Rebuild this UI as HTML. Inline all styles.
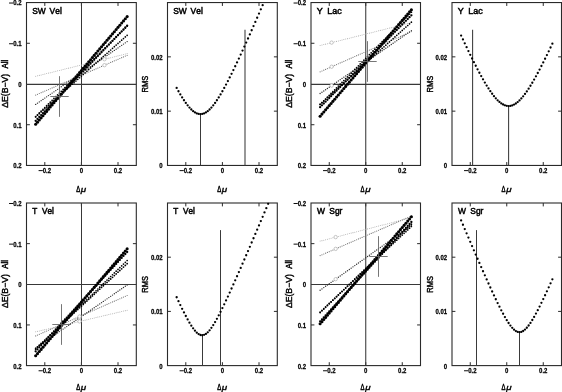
<!DOCTYPE html>
<html><head><meta charset="utf-8"><style>
html,body{margin:0;padding:0;background:#fff;}
body{width:562px;height:392px;overflow:hidden;}
svg{display:block;will-change:transform;font-family:'Liberation Sans',sans-serif;font-kerning:none;}
</style></head><body>
<svg width="562" height="392" viewBox="0 0 562 392" fill="#000">
<rect width="562" height="392" fill="#fff"/>
<rect x="26.50" y="2.55" width="109.80" height="162.90" fill="none" stroke="#2a2a2a" stroke-width="1.1"/>
<line x1="44.80" y1="2.55" x2="44.80" y2="5.95" stroke="#2a2a2a" stroke-width="1"/>
<line x1="44.80" y1="165.45" x2="44.80" y2="162.05" stroke="#2a2a2a" stroke-width="1"/>
<line x1="81.40" y1="2.55" x2="81.40" y2="5.95" stroke="#2a2a2a" stroke-width="1"/>
<line x1="81.40" y1="165.45" x2="81.40" y2="162.05" stroke="#2a2a2a" stroke-width="1"/>
<line x1="118.00" y1="2.55" x2="118.00" y2="5.95" stroke="#2a2a2a" stroke-width="1"/>
<line x1="118.00" y1="165.45" x2="118.00" y2="162.05" stroke="#2a2a2a" stroke-width="1"/>
<line x1="26.50" y1="43.28" x2="29.90" y2="43.28" stroke="#2a2a2a" stroke-width="1"/>
<line x1="136.30" y1="43.28" x2="132.90" y2="43.28" stroke="#2a2a2a" stroke-width="1"/>
<line x1="26.50" y1="124.72" x2="29.90" y2="124.72" stroke="#2a2a2a" stroke-width="1"/>
<line x1="136.30" y1="124.72" x2="132.90" y2="124.72" stroke="#2a2a2a" stroke-width="1"/>
<line x1="81.50" y1="2.55" x2="81.50" y2="165.45" stroke="#383838" stroke-width="1.05"/>
<line x1="26.50" y1="84.35" x2="136.30" y2="84.35" stroke="#383838" stroke-width="1.05"/>
<circle cx="35.65" cy="76.30" r="0.52" fill="#b0b0b0"/>
<circle cx="37.48" cy="75.85" r="0.52" fill="#b0b0b0"/>
<circle cx="39.31" cy="75.39" r="0.52" fill="#b0b0b0"/>
<circle cx="41.14" cy="74.94" r="0.52" fill="#b0b0b0"/>
<circle cx="42.97" cy="74.48" r="0.52" fill="#b0b0b0"/>
<circle cx="44.80" cy="74.03" r="0.52" fill="#b0b0b0"/>
<circle cx="46.63" cy="73.58" r="0.52" fill="#b0b0b0"/>
<circle cx="48.46" cy="73.12" r="0.52" fill="#b0b0b0"/>
<circle cx="50.29" cy="72.67" r="0.52" fill="#b0b0b0"/>
<circle cx="52.12" cy="72.21" r="0.52" fill="#b0b0b0"/>
<circle cx="53.95" cy="71.76" r="0.52" fill="#b0b0b0"/>
<circle cx="55.78" cy="71.31" r="0.52" fill="#b0b0b0"/>
<circle cx="57.61" cy="70.85" r="0.52" fill="#b0b0b0"/>
<circle cx="59.44" cy="70.40" r="0.52" fill="#b0b0b0"/>
<circle cx="61.27" cy="69.94" r="0.52" fill="#b0b0b0"/>
<circle cx="63.10" cy="69.49" r="0.52" fill="#b0b0b0"/>
<circle cx="64.93" cy="69.04" r="0.52" fill="#b0b0b0"/>
<circle cx="66.76" cy="68.58" r="0.52" fill="#b0b0b0"/>
<circle cx="68.59" cy="68.13" r="0.52" fill="#b0b0b0"/>
<circle cx="70.42" cy="67.67" r="0.52" fill="#b0b0b0"/>
<circle cx="72.25" cy="67.22" r="0.52" fill="#b0b0b0"/>
<circle cx="74.08" cy="66.77" r="0.52" fill="#b0b0b0"/>
<circle cx="75.91" cy="66.31" r="0.52" fill="#b0b0b0"/>
<circle cx="77.74" cy="65.86" r="0.52" fill="#b0b0b0"/>
<circle cx="79.57" cy="65.40" r="0.52" fill="#b0b0b0"/>
<circle cx="81.40" cy="64.95" r="0.52" fill="#b0b0b0"/>
<circle cx="83.23" cy="64.50" r="0.52" fill="#b0b0b0"/>
<circle cx="85.06" cy="64.04" r="0.52" fill="#b0b0b0"/>
<circle cx="86.89" cy="63.59" r="0.52" fill="#b0b0b0"/>
<circle cx="88.72" cy="63.13" r="0.52" fill="#b0b0b0"/>
<circle cx="90.55" cy="62.68" r="0.52" fill="#b0b0b0"/>
<circle cx="92.38" cy="62.23" r="0.52" fill="#b0b0b0"/>
<circle cx="94.21" cy="61.77" r="0.52" fill="#b0b0b0"/>
<circle cx="96.04" cy="61.32" r="0.52" fill="#b0b0b0"/>
<circle cx="97.87" cy="60.86" r="0.52" fill="#b0b0b0"/>
<circle cx="99.70" cy="60.41" r="0.52" fill="#b0b0b0"/>
<circle cx="101.53" cy="59.96" r="0.52" fill="#b0b0b0"/>
<circle cx="103.36" cy="59.50" r="0.52" fill="#b0b0b0"/>
<circle cx="105.19" cy="59.05" r="0.52" fill="#b0b0b0"/>
<circle cx="107.02" cy="58.59" r="0.52" fill="#b0b0b0"/>
<circle cx="108.85" cy="58.14" r="0.52" fill="#b0b0b0"/>
<circle cx="110.68" cy="57.69" r="0.52" fill="#b0b0b0"/>
<circle cx="112.51" cy="57.23" r="0.52" fill="#b0b0b0"/>
<circle cx="114.34" cy="56.78" r="0.52" fill="#b0b0b0"/>
<circle cx="116.17" cy="56.32" r="0.52" fill="#b0b0b0"/>
<circle cx="118.00" cy="55.87" r="0.52" fill="#b0b0b0"/>
<circle cx="119.83" cy="55.42" r="0.52" fill="#b0b0b0"/>
<circle cx="121.66" cy="54.96" r="0.52" fill="#b0b0b0"/>
<circle cx="123.49" cy="54.51" r="0.52" fill="#b0b0b0"/>
<circle cx="125.32" cy="54.05" r="0.52" fill="#b0b0b0"/>
<circle cx="127.15" cy="53.60" r="0.52" fill="#b0b0b0"/>
<circle cx="35.65" cy="95.10" r="0.6" fill="#777"/>
<circle cx="37.48" cy="94.30" r="0.6" fill="#777"/>
<circle cx="39.31" cy="93.51" r="0.6" fill="#777"/>
<circle cx="41.14" cy="92.71" r="0.6" fill="#777"/>
<circle cx="42.97" cy="91.92" r="0.6" fill="#777"/>
<circle cx="44.80" cy="91.12" r="0.6" fill="#777"/>
<circle cx="46.63" cy="90.32" r="0.6" fill="#777"/>
<circle cx="48.46" cy="89.53" r="0.6" fill="#777"/>
<circle cx="50.29" cy="88.73" r="0.6" fill="#777"/>
<circle cx="52.12" cy="87.94" r="0.6" fill="#777"/>
<circle cx="53.95" cy="87.14" r="0.6" fill="#777"/>
<circle cx="55.78" cy="86.34" r="0.6" fill="#777"/>
<circle cx="57.61" cy="85.55" r="0.6" fill="#777"/>
<circle cx="59.44" cy="84.75" r="0.6" fill="#777"/>
<circle cx="61.27" cy="83.96" r="0.6" fill="#777"/>
<circle cx="63.10" cy="83.16" r="0.6" fill="#777"/>
<circle cx="64.93" cy="82.36" r="0.6" fill="#777"/>
<circle cx="66.76" cy="81.57" r="0.6" fill="#777"/>
<circle cx="68.59" cy="80.77" r="0.6" fill="#777"/>
<circle cx="70.42" cy="79.98" r="0.6" fill="#777"/>
<circle cx="72.25" cy="79.18" r="0.6" fill="#777"/>
<circle cx="74.08" cy="78.38" r="0.6" fill="#777"/>
<circle cx="75.91" cy="77.59" r="0.6" fill="#777"/>
<circle cx="77.74" cy="76.79" r="0.6" fill="#777"/>
<circle cx="79.57" cy="76.00" r="0.6" fill="#777"/>
<circle cx="81.40" cy="75.20" r="0.6" fill="#777"/>
<circle cx="83.23" cy="74.40" r="0.6" fill="#777"/>
<circle cx="85.06" cy="73.61" r="0.6" fill="#777"/>
<circle cx="86.89" cy="72.81" r="0.6" fill="#777"/>
<circle cx="88.72" cy="72.02" r="0.6" fill="#777"/>
<circle cx="90.55" cy="71.22" r="0.6" fill="#777"/>
<circle cx="92.38" cy="70.42" r="0.6" fill="#777"/>
<circle cx="94.21" cy="69.63" r="0.6" fill="#777"/>
<circle cx="96.04" cy="68.83" r="0.6" fill="#777"/>
<circle cx="97.87" cy="68.04" r="0.6" fill="#777"/>
<circle cx="99.70" cy="67.24" r="0.6" fill="#777"/>
<circle cx="101.53" cy="66.44" r="0.6" fill="#777"/>
<circle cx="103.36" cy="65.65" r="0.6" fill="#777"/>
<circle cx="105.19" cy="64.85" r="0.6" fill="#777"/>
<circle cx="107.02" cy="64.06" r="0.6" fill="#777"/>
<circle cx="108.85" cy="63.26" r="0.6" fill="#777"/>
<circle cx="110.68" cy="62.46" r="0.6" fill="#777"/>
<circle cx="112.51" cy="61.67" r="0.6" fill="#777"/>
<circle cx="114.34" cy="60.87" r="0.6" fill="#777"/>
<circle cx="116.17" cy="60.08" r="0.6" fill="#777"/>
<circle cx="118.00" cy="59.28" r="0.6" fill="#777"/>
<circle cx="119.83" cy="58.48" r="0.6" fill="#777"/>
<circle cx="121.66" cy="57.69" r="0.6" fill="#777"/>
<circle cx="123.49" cy="56.89" r="0.6" fill="#777"/>
<circle cx="125.32" cy="56.10" r="0.6" fill="#777"/>
<circle cx="127.15" cy="55.30" r="0.6" fill="#777"/>
<circle cx="35.65" cy="104.40" r="0.7" fill="#333"/>
<circle cx="37.48" cy="103.14" r="0.7" fill="#333"/>
<circle cx="39.31" cy="101.89" r="0.7" fill="#333"/>
<circle cx="41.14" cy="100.63" r="0.7" fill="#333"/>
<circle cx="42.97" cy="99.38" r="0.7" fill="#333"/>
<circle cx="44.80" cy="98.12" r="0.7" fill="#333"/>
<circle cx="46.63" cy="96.86" r="0.7" fill="#333"/>
<circle cx="48.46" cy="95.61" r="0.7" fill="#333"/>
<circle cx="50.29" cy="94.35" r="0.7" fill="#333"/>
<circle cx="52.12" cy="93.10" r="0.7" fill="#333"/>
<circle cx="53.95" cy="91.84" r="0.7" fill="#333"/>
<circle cx="55.78" cy="90.58" r="0.7" fill="#333"/>
<circle cx="57.61" cy="89.33" r="0.7" fill="#333"/>
<circle cx="59.44" cy="88.07" r="0.7" fill="#333"/>
<circle cx="61.27" cy="86.82" r="0.7" fill="#333"/>
<circle cx="63.10" cy="85.56" r="0.7" fill="#333"/>
<circle cx="64.93" cy="84.30" r="0.7" fill="#333"/>
<circle cx="66.76" cy="83.05" r="0.7" fill="#333"/>
<circle cx="68.59" cy="81.79" r="0.7" fill="#333"/>
<circle cx="70.42" cy="80.54" r="0.7" fill="#333"/>
<circle cx="72.25" cy="79.28" r="0.7" fill="#333"/>
<circle cx="74.08" cy="78.02" r="0.7" fill="#333"/>
<circle cx="75.91" cy="76.77" r="0.7" fill="#333"/>
<circle cx="77.74" cy="75.51" r="0.7" fill="#333"/>
<circle cx="79.57" cy="74.26" r="0.7" fill="#333"/>
<circle cx="81.40" cy="73.00" r="0.7" fill="#333"/>
<circle cx="83.23" cy="71.74" r="0.7" fill="#333"/>
<circle cx="85.06" cy="70.49" r="0.7" fill="#333"/>
<circle cx="86.89" cy="69.23" r="0.7" fill="#333"/>
<circle cx="88.72" cy="67.98" r="0.7" fill="#333"/>
<circle cx="90.55" cy="66.72" r="0.7" fill="#333"/>
<circle cx="92.38" cy="65.46" r="0.7" fill="#333"/>
<circle cx="94.21" cy="64.21" r="0.7" fill="#333"/>
<circle cx="96.04" cy="62.95" r="0.7" fill="#333"/>
<circle cx="97.87" cy="61.70" r="0.7" fill="#333"/>
<circle cx="99.70" cy="60.44" r="0.7" fill="#333"/>
<circle cx="101.53" cy="59.18" r="0.7" fill="#333"/>
<circle cx="103.36" cy="57.93" r="0.7" fill="#333"/>
<circle cx="105.19" cy="56.67" r="0.7" fill="#333"/>
<circle cx="107.02" cy="55.42" r="0.7" fill="#333"/>
<circle cx="108.85" cy="54.16" r="0.7" fill="#333"/>
<circle cx="110.68" cy="52.90" r="0.7" fill="#333"/>
<circle cx="112.51" cy="51.65" r="0.7" fill="#333"/>
<circle cx="114.34" cy="50.39" r="0.7" fill="#333"/>
<circle cx="116.17" cy="49.14" r="0.7" fill="#333"/>
<circle cx="118.00" cy="47.88" r="0.7" fill="#333"/>
<circle cx="119.83" cy="46.62" r="0.7" fill="#333"/>
<circle cx="121.66" cy="45.37" r="0.7" fill="#333"/>
<circle cx="123.49" cy="44.11" r="0.7" fill="#333"/>
<circle cx="125.32" cy="42.86" r="0.7" fill="#333"/>
<circle cx="127.15" cy="41.60" r="0.7" fill="#333"/>
<circle cx="104.46" cy="57.17" r="1.7" fill="#fff" stroke="#999" stroke-width="0.55"/>
<circle cx="104.46" cy="65.17" r="1.7" fill="#fff" stroke="#999" stroke-width="0.55"/>
<circle cx="104.46" cy="59.23" r="1.7" fill="#fff" stroke="#999" stroke-width="0.55"/>
<circle cx="35.65" cy="116.60" r="0.9" fill="#000"/>
<circle cx="37.48" cy="114.79" r="0.9" fill="#000"/>
<circle cx="39.31" cy="112.98" r="0.9" fill="#000"/>
<circle cx="41.14" cy="111.18" r="0.9" fill="#000"/>
<circle cx="42.97" cy="109.37" r="0.9" fill="#000"/>
<circle cx="44.80" cy="107.56" r="0.9" fill="#000"/>
<circle cx="46.63" cy="105.75" r="0.9" fill="#000"/>
<circle cx="48.46" cy="103.94" r="0.9" fill="#000"/>
<circle cx="50.29" cy="102.14" r="0.9" fill="#000"/>
<circle cx="52.12" cy="100.33" r="0.9" fill="#000"/>
<circle cx="53.95" cy="98.52" r="0.9" fill="#000"/>
<circle cx="55.78" cy="96.71" r="0.9" fill="#000"/>
<circle cx="57.61" cy="94.90" r="0.9" fill="#000"/>
<circle cx="59.44" cy="93.10" r="0.9" fill="#000"/>
<circle cx="61.27" cy="91.29" r="0.9" fill="#000"/>
<circle cx="63.10" cy="89.48" r="0.9" fill="#000"/>
<circle cx="64.93" cy="87.67" r="0.9" fill="#000"/>
<circle cx="66.76" cy="85.86" r="0.9" fill="#000"/>
<circle cx="68.59" cy="84.06" r="0.9" fill="#000"/>
<circle cx="70.42" cy="82.25" r="0.9" fill="#000"/>
<circle cx="72.25" cy="80.44" r="0.9" fill="#000"/>
<circle cx="74.08" cy="78.63" r="0.9" fill="#000"/>
<circle cx="75.91" cy="76.82" r="0.9" fill="#000"/>
<circle cx="77.74" cy="75.02" r="0.9" fill="#000"/>
<circle cx="79.57" cy="73.21" r="0.9" fill="#000"/>
<circle cx="81.40" cy="71.40" r="0.9" fill="#000"/>
<circle cx="83.23" cy="69.59" r="0.9" fill="#000"/>
<circle cx="85.06" cy="67.78" r="0.9" fill="#000"/>
<circle cx="86.89" cy="65.98" r="0.9" fill="#000"/>
<circle cx="88.72" cy="64.17" r="0.9" fill="#000"/>
<circle cx="90.55" cy="62.36" r="0.9" fill="#000"/>
<circle cx="92.38" cy="60.55" r="0.9" fill="#000"/>
<circle cx="94.21" cy="58.74" r="0.9" fill="#000"/>
<circle cx="96.04" cy="56.94" r="0.9" fill="#000"/>
<circle cx="97.87" cy="55.13" r="0.9" fill="#000"/>
<circle cx="99.70" cy="53.32" r="0.9" fill="#000"/>
<circle cx="101.53" cy="51.51" r="0.9" fill="#000"/>
<circle cx="103.36" cy="49.70" r="0.9" fill="#000"/>
<circle cx="105.19" cy="47.90" r="0.9" fill="#000"/>
<circle cx="107.02" cy="46.09" r="0.9" fill="#000"/>
<circle cx="108.85" cy="44.28" r="0.9" fill="#000"/>
<circle cx="110.68" cy="42.47" r="0.9" fill="#000"/>
<circle cx="112.51" cy="40.66" r="0.9" fill="#000"/>
<circle cx="114.34" cy="38.86" r="0.9" fill="#000"/>
<circle cx="116.17" cy="37.05" r="0.9" fill="#000"/>
<circle cx="118.00" cy="35.24" r="0.9" fill="#000"/>
<circle cx="119.83" cy="33.43" r="0.9" fill="#000"/>
<circle cx="121.66" cy="31.62" r="0.9" fill="#000"/>
<circle cx="123.49" cy="29.82" r="0.9" fill="#000"/>
<circle cx="125.32" cy="28.01" r="0.9" fill="#000"/>
<circle cx="127.15" cy="26.20" r="0.9" fill="#000"/>
<circle cx="35.65" cy="116.90" r="0.85" fill="#000"/>
<circle cx="37.48" cy="115.27" r="0.85" fill="#000"/>
<circle cx="39.31" cy="113.64" r="0.85" fill="#000"/>
<circle cx="41.14" cy="112.00" r="0.85" fill="#000"/>
<circle cx="42.97" cy="110.37" r="0.85" fill="#000"/>
<circle cx="44.80" cy="108.74" r="0.85" fill="#000"/>
<circle cx="46.63" cy="107.11" r="0.85" fill="#000"/>
<circle cx="48.46" cy="105.48" r="0.85" fill="#000"/>
<circle cx="50.29" cy="103.84" r="0.85" fill="#000"/>
<circle cx="52.12" cy="102.21" r="0.85" fill="#000"/>
<circle cx="53.95" cy="100.58" r="0.85" fill="#000"/>
<circle cx="55.78" cy="98.95" r="0.85" fill="#000"/>
<circle cx="57.61" cy="97.32" r="0.85" fill="#000"/>
<circle cx="59.44" cy="95.68" r="0.85" fill="#000"/>
<circle cx="61.27" cy="94.05" r="0.85" fill="#000"/>
<circle cx="63.10" cy="92.42" r="0.85" fill="#000"/>
<circle cx="64.93" cy="90.79" r="0.85" fill="#000"/>
<circle cx="66.76" cy="89.16" r="0.85" fill="#000"/>
<circle cx="68.59" cy="87.52" r="0.85" fill="#000"/>
<circle cx="70.42" cy="85.89" r="0.85" fill="#000"/>
<circle cx="72.25" cy="84.26" r="0.85" fill="#000"/>
<circle cx="74.08" cy="82.63" r="0.85" fill="#000"/>
<circle cx="75.91" cy="81.00" r="0.85" fill="#000"/>
<circle cx="77.74" cy="79.36" r="0.85" fill="#000"/>
<circle cx="79.57" cy="77.73" r="0.85" fill="#000"/>
<circle cx="81.40" cy="76.10" r="0.85" fill="#000"/>
<circle cx="83.23" cy="74.47" r="0.85" fill="#000"/>
<circle cx="85.06" cy="72.84" r="0.85" fill="#000"/>
<circle cx="86.89" cy="71.20" r="0.85" fill="#000"/>
<circle cx="88.72" cy="69.57" r="0.85" fill="#000"/>
<circle cx="90.55" cy="67.94" r="0.85" fill="#000"/>
<circle cx="92.38" cy="66.31" r="0.85" fill="#000"/>
<circle cx="94.21" cy="64.68" r="0.85" fill="#000"/>
<circle cx="96.04" cy="63.04" r="0.85" fill="#000"/>
<circle cx="97.87" cy="61.41" r="0.85" fill="#000"/>
<circle cx="99.70" cy="59.78" r="0.85" fill="#000"/>
<circle cx="101.53" cy="58.15" r="0.85" fill="#000"/>
<circle cx="103.36" cy="56.52" r="0.85" fill="#000"/>
<circle cx="105.19" cy="54.88" r="0.85" fill="#000"/>
<circle cx="107.02" cy="53.25" r="0.85" fill="#000"/>
<circle cx="108.85" cy="51.62" r="0.85" fill="#000"/>
<circle cx="110.68" cy="49.99" r="0.85" fill="#000"/>
<circle cx="112.51" cy="48.36" r="0.85" fill="#000"/>
<circle cx="114.34" cy="46.72" r="0.85" fill="#000"/>
<circle cx="116.17" cy="45.09" r="0.85" fill="#000"/>
<circle cx="118.00" cy="43.46" r="0.85" fill="#000"/>
<circle cx="119.83" cy="41.83" r="0.85" fill="#000"/>
<circle cx="121.66" cy="40.20" r="0.85" fill="#000"/>
<circle cx="123.49" cy="38.56" r="0.85" fill="#000"/>
<circle cx="125.32" cy="36.93" r="0.85" fill="#000"/>
<circle cx="127.15" cy="35.30" r="0.85" fill="#000"/>
<circle cx="35.65" cy="120.80" r="1.15" fill="#000"/>
<circle cx="37.48" cy="118.90" r="1.15" fill="#000"/>
<circle cx="39.31" cy="116.99" r="1.15" fill="#000"/>
<circle cx="41.14" cy="115.09" r="1.15" fill="#000"/>
<circle cx="42.97" cy="113.18" r="1.15" fill="#000"/>
<circle cx="44.80" cy="111.28" r="1.15" fill="#000"/>
<circle cx="46.63" cy="109.38" r="1.15" fill="#000"/>
<circle cx="48.46" cy="107.47" r="1.15" fill="#000"/>
<circle cx="50.29" cy="105.57" r="1.15" fill="#000"/>
<circle cx="52.12" cy="103.66" r="1.15" fill="#000"/>
<circle cx="53.95" cy="101.76" r="1.15" fill="#000"/>
<circle cx="55.78" cy="99.86" r="1.15" fill="#000"/>
<circle cx="57.61" cy="97.95" r="1.15" fill="#000"/>
<circle cx="59.44" cy="96.05" r="1.15" fill="#000"/>
<circle cx="61.27" cy="94.14" r="1.15" fill="#000"/>
<circle cx="63.10" cy="92.24" r="1.15" fill="#000"/>
<circle cx="64.93" cy="90.34" r="1.15" fill="#000"/>
<circle cx="66.76" cy="88.43" r="1.15" fill="#000"/>
<circle cx="68.59" cy="86.53" r="1.15" fill="#000"/>
<circle cx="70.42" cy="84.62" r="1.15" fill="#000"/>
<circle cx="72.25" cy="82.72" r="1.15" fill="#000"/>
<circle cx="74.08" cy="80.82" r="1.15" fill="#000"/>
<circle cx="75.91" cy="78.91" r="1.15" fill="#000"/>
<circle cx="77.74" cy="77.01" r="1.15" fill="#000"/>
<circle cx="79.57" cy="75.10" r="1.15" fill="#000"/>
<circle cx="81.40" cy="73.20" r="1.15" fill="#000"/>
<circle cx="83.23" cy="71.30" r="1.15" fill="#000"/>
<circle cx="85.06" cy="69.39" r="1.15" fill="#000"/>
<circle cx="86.89" cy="67.49" r="1.15" fill="#000"/>
<circle cx="88.72" cy="65.58" r="1.15" fill="#000"/>
<circle cx="90.55" cy="63.68" r="1.15" fill="#000"/>
<circle cx="92.38" cy="61.78" r="1.15" fill="#000"/>
<circle cx="94.21" cy="59.87" r="1.15" fill="#000"/>
<circle cx="96.04" cy="57.97" r="1.15" fill="#000"/>
<circle cx="97.87" cy="56.06" r="1.15" fill="#000"/>
<circle cx="99.70" cy="54.16" r="1.15" fill="#000"/>
<circle cx="101.53" cy="52.26" r="1.15" fill="#000"/>
<circle cx="103.36" cy="50.35" r="1.15" fill="#000"/>
<circle cx="105.19" cy="48.45" r="1.15" fill="#000"/>
<circle cx="107.02" cy="46.54" r="1.15" fill="#000"/>
<circle cx="108.85" cy="44.64" r="1.15" fill="#000"/>
<circle cx="110.68" cy="42.74" r="1.15" fill="#000"/>
<circle cx="112.51" cy="40.83" r="1.15" fill="#000"/>
<circle cx="114.34" cy="38.93" r="1.15" fill="#000"/>
<circle cx="116.17" cy="37.02" r="1.15" fill="#000"/>
<circle cx="118.00" cy="35.12" r="1.15" fill="#000"/>
<circle cx="119.83" cy="33.22" r="1.15" fill="#000"/>
<circle cx="121.66" cy="31.31" r="1.15" fill="#000"/>
<circle cx="123.49" cy="29.41" r="1.15" fill="#000"/>
<circle cx="125.32" cy="27.50" r="1.15" fill="#000"/>
<circle cx="127.15" cy="25.60" r="1.15" fill="#000"/>
<circle cx="35.65" cy="124.30" r="1.55" fill="#000"/>
<circle cx="37.48" cy="122.15" r="1.55" fill="#000"/>
<circle cx="39.31" cy="119.99" r="1.55" fill="#000"/>
<circle cx="41.14" cy="117.84" r="1.55" fill="#000"/>
<circle cx="42.97" cy="115.68" r="1.55" fill="#000"/>
<circle cx="44.80" cy="113.53" r="1.55" fill="#000"/>
<circle cx="46.63" cy="111.38" r="1.55" fill="#000"/>
<circle cx="48.46" cy="109.22" r="1.55" fill="#000"/>
<circle cx="50.29" cy="107.07" r="1.55" fill="#000"/>
<circle cx="52.12" cy="104.91" r="1.55" fill="#000"/>
<circle cx="53.95" cy="102.76" r="1.55" fill="#000"/>
<circle cx="55.78" cy="100.61" r="1.55" fill="#000"/>
<circle cx="57.61" cy="98.45" r="1.55" fill="#000"/>
<circle cx="59.44" cy="96.30" r="1.55" fill="#000"/>
<circle cx="61.27" cy="94.14" r="1.55" fill="#000"/>
<circle cx="63.10" cy="91.99" r="1.55" fill="#000"/>
<circle cx="64.93" cy="89.84" r="1.55" fill="#000"/>
<circle cx="66.76" cy="87.68" r="1.55" fill="#000"/>
<circle cx="68.59" cy="85.53" r="1.55" fill="#000"/>
<circle cx="70.42" cy="83.37" r="1.55" fill="#000"/>
<circle cx="72.25" cy="81.22" r="1.55" fill="#000"/>
<circle cx="74.08" cy="79.07" r="1.55" fill="#000"/>
<circle cx="75.91" cy="76.91" r="1.55" fill="#000"/>
<circle cx="77.74" cy="74.76" r="1.55" fill="#000"/>
<circle cx="79.57" cy="72.60" r="1.55" fill="#000"/>
<circle cx="81.40" cy="70.45" r="1.55" fill="#000"/>
<circle cx="83.23" cy="68.30" r="1.55" fill="#000"/>
<circle cx="85.06" cy="66.14" r="1.55" fill="#000"/>
<circle cx="86.89" cy="63.99" r="1.55" fill="#000"/>
<circle cx="88.72" cy="61.83" r="1.55" fill="#000"/>
<circle cx="90.55" cy="59.68" r="1.55" fill="#000"/>
<circle cx="92.38" cy="57.53" r="1.55" fill="#000"/>
<circle cx="94.21" cy="55.37" r="1.55" fill="#000"/>
<circle cx="96.04" cy="53.22" r="1.55" fill="#000"/>
<circle cx="97.87" cy="51.06" r="1.55" fill="#000"/>
<circle cx="99.70" cy="48.91" r="1.55" fill="#000"/>
<circle cx="101.53" cy="46.76" r="1.55" fill="#000"/>
<circle cx="103.36" cy="44.60" r="1.55" fill="#000"/>
<circle cx="105.19" cy="42.45" r="1.55" fill="#000"/>
<circle cx="107.02" cy="40.29" r="1.55" fill="#000"/>
<circle cx="108.85" cy="38.14" r="1.55" fill="#000"/>
<circle cx="110.68" cy="35.99" r="1.55" fill="#000"/>
<circle cx="112.51" cy="33.83" r="1.55" fill="#000"/>
<circle cx="114.34" cy="31.68" r="1.55" fill="#000"/>
<circle cx="116.17" cy="29.52" r="1.55" fill="#000"/>
<circle cx="118.00" cy="27.37" r="1.55" fill="#000"/>
<circle cx="119.83" cy="25.22" r="1.55" fill="#000"/>
<circle cx="121.66" cy="23.06" r="1.55" fill="#000"/>
<circle cx="123.49" cy="20.91" r="1.55" fill="#000"/>
<circle cx="125.32" cy="18.75" r="1.55" fill="#000"/>
<circle cx="127.15" cy="16.60" r="1.55" fill="#000"/>
<line x1="50.30" y1="96.50" x2="68.70" y2="96.50" stroke="#666" stroke-width="0.9"/>
<line x1="59.50" y1="76.15" x2="59.50" y2="116.85" stroke="#666" stroke-width="0.9"/>
<rect x="38.58" y="170.15" width="4.2" height="0.95" fill="#000"/>
<text transform="translate(42.78,173.05) scale(1,1.17)" font-size="6.0" font-weight="bold" stroke="#000" stroke-width="0.22">0.2</text>
<text transform="translate(79.73,173.05) scale(1,1.17)" font-size="6.0" font-weight="bold" stroke="#000" stroke-width="0.22">0</text>
<text transform="translate(113.83,173.05) scale(1,1.17)" font-size="6.0" font-weight="bold" stroke="#000" stroke-width="0.22">0.2</text>
<rect x="9.06" y="2.55" width="4.2" height="0.95" fill="#000"/>
<text transform="translate(13.26,5.45) scale(1,1.17)" font-size="6.0" font-weight="bold" stroke="#000" stroke-width="0.22">0.2</text>
<rect x="9.06" y="43.28" width="4.2" height="0.95" fill="#000"/>
<text transform="translate(13.26,46.18) scale(1,1.17)" font-size="6.0" font-weight="bold" stroke="#000" stroke-width="0.22">0.1</text>
<text transform="translate(18.26,86.90) scale(1,1.17)" font-size="6.0" font-weight="bold" stroke="#000" stroke-width="0.22">0</text>
<text transform="translate(13.26,127.62) scale(1,1.17)" font-size="6.0" font-weight="bold" stroke="#000" stroke-width="0.22">0.1</text>
<text transform="translate(13.26,168.35) scale(1,1.17)" font-size="6.0" font-weight="bold" stroke="#000" stroke-width="0.22">0.2</text>
<text transform="translate(76.40,192.25) scale(0.5922,0.8576)" x="-0.298" y="0" font-size="10.0" font-weight="normal" fill="#000"  stroke="#000" stroke-width="0.561">Δ</text>
<text transform="translate(80.60,192.25) scale(0.9770,0.7765)" x="0.210" y="0" font-size="10.0" font-weight="normal" font-style="italic" fill="#000"  stroke="#000" stroke-width="0.459">μ</text>
<text transform="translate(7.70,107.50) rotate(-90) scale(0.8649,0.8866)" x="-0.298" y="0" font-size="10.0" font-weight="normal" fill="#000"  stroke="#000" stroke-width="0.457">ΔE(B−V)</text>
<text transform="translate(7.70,68.50) rotate(-90) scale(0.7866,0.8721)" x="-0.020" y="0" font-size="10.0" font-weight="normal" fill="#000"  stroke="#000" stroke-width="0.483">All</text>
<text transform="translate(32.50,13.65) scale(0.8443,0.9302)" x="-0.454" y="0" font-size="10.0" font-weight="normal" fill="#000"  word-spacing="1.777" stroke="#000" stroke-width="0.564">SW Vel</text>
<rect x="167.50" y="2.55" width="109.80" height="162.90" fill="none" stroke="#2a2a2a" stroke-width="1.1"/>
<line x1="185.80" y1="2.55" x2="185.80" y2="5.95" stroke="#2a2a2a" stroke-width="1"/>
<line x1="185.80" y1="165.45" x2="185.80" y2="162.05" stroke="#2a2a2a" stroke-width="1"/>
<line x1="222.40" y1="2.55" x2="222.40" y2="5.95" stroke="#2a2a2a" stroke-width="1"/>
<line x1="222.40" y1="165.45" x2="222.40" y2="162.05" stroke="#2a2a2a" stroke-width="1"/>
<line x1="259.00" y1="2.55" x2="259.00" y2="5.95" stroke="#2a2a2a" stroke-width="1"/>
<line x1="259.00" y1="165.45" x2="259.00" y2="162.05" stroke="#2a2a2a" stroke-width="1"/>
<line x1="167.50" y1="111.15" x2="170.90" y2="111.15" stroke="#2a2a2a" stroke-width="1"/>
<line x1="277.30" y1="111.15" x2="273.90" y2="111.15" stroke="#2a2a2a" stroke-width="1"/>
<line x1="167.50" y1="56.85" x2="170.90" y2="56.85" stroke="#2a2a2a" stroke-width="1"/>
<line x1="277.30" y1="56.85" x2="273.90" y2="56.85" stroke="#2a2a2a" stroke-width="1"/>
<line x1="200.50" y1="165.45" x2="200.50" y2="114.15" stroke="#3a3a3a" stroke-width="1.05"/>
<line x1="245.00" y1="165.45" x2="245.00" y2="29.70" stroke="#3a3a3a" stroke-width="1.05"/>
<circle cx="176.65" cy="87.96" r="1.15" fill="#000"/>
<circle cx="178.48" cy="91.25" r="1.15" fill="#000"/>
<circle cx="180.31" cy="94.41" r="1.15" fill="#000"/>
<circle cx="182.14" cy="97.42" r="1.15" fill="#000"/>
<circle cx="183.97" cy="100.27" r="1.15" fill="#000"/>
<circle cx="185.80" cy="102.93" r="1.15" fill="#000"/>
<circle cx="187.63" cy="105.37" r="1.15" fill="#000"/>
<circle cx="189.46" cy="107.57" r="1.15" fill="#000"/>
<circle cx="191.29" cy="109.50" r="1.15" fill="#000"/>
<circle cx="193.12" cy="111.13" r="1.15" fill="#000"/>
<circle cx="194.95" cy="112.43" r="1.15" fill="#000"/>
<circle cx="196.78" cy="113.38" r="1.15" fill="#000"/>
<circle cx="198.61" cy="113.96" r="1.15" fill="#000"/>
<circle cx="200.44" cy="114.15" r="1.15" fill="#000"/>
<circle cx="202.27" cy="113.96" r="1.15" fill="#000"/>
<circle cx="204.10" cy="113.38" r="1.15" fill="#000"/>
<circle cx="205.93" cy="112.43" r="1.15" fill="#000"/>
<circle cx="207.76" cy="111.13" r="1.15" fill="#000"/>
<circle cx="209.59" cy="109.50" r="1.15" fill="#000"/>
<circle cx="211.42" cy="107.57" r="1.15" fill="#000"/>
<circle cx="213.25" cy="105.37" r="1.15" fill="#000"/>
<circle cx="215.08" cy="102.93" r="1.15" fill="#000"/>
<circle cx="216.91" cy="100.27" r="1.15" fill="#000"/>
<circle cx="218.74" cy="97.43" r="1.15" fill="#000"/>
<circle cx="220.57" cy="94.41" r="1.15" fill="#000"/>
<circle cx="222.40" cy="91.25" r="1.15" fill="#000"/>
<circle cx="224.23" cy="87.96" r="1.15" fill="#000"/>
<circle cx="226.06" cy="84.56" r="1.15" fill="#000"/>
<circle cx="227.89" cy="81.06" r="1.15" fill="#000"/>
<circle cx="229.72" cy="77.47" r="1.15" fill="#000"/>
<circle cx="231.55" cy="73.80" r="1.15" fill="#000"/>
<circle cx="233.38" cy="70.07" r="1.15" fill="#000"/>
<circle cx="235.21" cy="66.27" r="1.15" fill="#000"/>
<circle cx="237.04" cy="62.42" r="1.15" fill="#000"/>
<circle cx="238.87" cy="58.53" r="1.15" fill="#000"/>
<circle cx="240.70" cy="54.59" r="1.15" fill="#000"/>
<circle cx="242.53" cy="50.61" r="1.15" fill="#000"/>
<circle cx="244.36" cy="46.59" r="1.15" fill="#000"/>
<circle cx="246.19" cy="42.55" r="1.15" fill="#000"/>
<circle cx="248.02" cy="38.48" r="1.15" fill="#000"/>
<circle cx="249.85" cy="34.38" r="1.15" fill="#000"/>
<circle cx="251.68" cy="30.25" r="1.15" fill="#000"/>
<circle cx="253.51" cy="26.11" r="1.15" fill="#000"/>
<circle cx="255.34" cy="21.95" r="1.15" fill="#000"/>
<circle cx="257.17" cy="17.77" r="1.15" fill="#000"/>
<circle cx="259.00" cy="13.57" r="1.15" fill="#000"/>
<circle cx="260.83" cy="9.36" r="1.15" fill="#000"/>
<circle cx="262.66" cy="5.13" r="1.15" fill="#000"/>
<rect x="179.58" y="170.15" width="4.2" height="0.95" fill="#000"/>
<text transform="translate(183.78,173.05) scale(1,1.17)" font-size="6.0" font-weight="bold" stroke="#000" stroke-width="0.22">0.2</text>
<text transform="translate(220.73,173.05) scale(1,1.17)" font-size="6.0" font-weight="bold" stroke="#000" stroke-width="0.22">0</text>
<text transform="translate(254.83,173.05) scale(1,1.17)" font-size="6.0" font-weight="bold" stroke="#000" stroke-width="0.22">0.2</text>
<text transform="translate(159.26,168.35) scale(1,1.17)" font-size="6.0" font-weight="bold" stroke="#000" stroke-width="0.22">0</text>
<text transform="translate(150.92,114.05) scale(1,1.17)" font-size="6.0" font-weight="bold" stroke="#000" stroke-width="0.22">0.01</text>
<text transform="translate(150.92,59.75) scale(1,1.17)" font-size="6.0" font-weight="bold" stroke="#000" stroke-width="0.22">0.02</text>
<text transform="translate(217.40,192.25) scale(0.5922,0.8576)" x="-0.298" y="0" font-size="10.0" font-weight="normal" fill="#000"  stroke="#000" stroke-width="0.561">Δ</text>
<text transform="translate(221.60,192.25) scale(0.9770,0.7765)" x="0.210" y="0" font-size="10.0" font-weight="normal" font-style="italic" fill="#000"  stroke="#000" stroke-width="0.459">μ</text>
<text transform="translate(148.40,91.90) rotate(-90) scale(0.7545,0.8576)" x="-0.820" y="0" font-size="10.0" font-weight="normal" fill="#000"  stroke="#000" stroke-width="0.497">RMS</text>
<text transform="translate(173.50,13.65) scale(0.8443,0.9302)" x="-0.454" y="0" font-size="10.0" font-weight="normal" fill="#000"  word-spacing="1.777" stroke="#000" stroke-width="0.564">SW Vel</text>
<rect x="311.00" y="2.55" width="109.50" height="162.90" fill="none" stroke="#2a2a2a" stroke-width="1.1"/>
<line x1="329.25" y1="2.55" x2="329.25" y2="5.95" stroke="#2a2a2a" stroke-width="1"/>
<line x1="329.25" y1="165.45" x2="329.25" y2="162.05" stroke="#2a2a2a" stroke-width="1"/>
<line x1="365.75" y1="2.55" x2="365.75" y2="5.95" stroke="#2a2a2a" stroke-width="1"/>
<line x1="365.75" y1="165.45" x2="365.75" y2="162.05" stroke="#2a2a2a" stroke-width="1"/>
<line x1="402.25" y1="2.55" x2="402.25" y2="5.95" stroke="#2a2a2a" stroke-width="1"/>
<line x1="402.25" y1="165.45" x2="402.25" y2="162.05" stroke="#2a2a2a" stroke-width="1"/>
<line x1="311.00" y1="43.28" x2="314.40" y2="43.28" stroke="#2a2a2a" stroke-width="1"/>
<line x1="420.50" y1="43.28" x2="417.10" y2="43.28" stroke="#2a2a2a" stroke-width="1"/>
<line x1="311.00" y1="124.72" x2="314.40" y2="124.72" stroke="#2a2a2a" stroke-width="1"/>
<line x1="420.50" y1="124.72" x2="417.10" y2="124.72" stroke="#2a2a2a" stroke-width="1"/>
<line x1="365.75" y1="2.55" x2="365.75" y2="165.45" stroke="#383838" stroke-width="1.05"/>
<line x1="311.00" y1="84.35" x2="420.50" y2="84.35" stroke="#383838" stroke-width="1.05"/>
<circle cx="320.12" cy="45.50" r="0.52" fill="#b0b0b0"/>
<circle cx="321.95" cy="45.04" r="0.52" fill="#b0b0b0"/>
<circle cx="323.77" cy="44.58" r="0.52" fill="#b0b0b0"/>
<circle cx="325.60" cy="44.13" r="0.52" fill="#b0b0b0"/>
<circle cx="327.43" cy="43.67" r="0.52" fill="#b0b0b0"/>
<circle cx="329.25" cy="43.21" r="0.52" fill="#b0b0b0"/>
<circle cx="331.07" cy="42.75" r="0.52" fill="#b0b0b0"/>
<circle cx="332.90" cy="42.29" r="0.52" fill="#b0b0b0"/>
<circle cx="334.73" cy="41.84" r="0.52" fill="#b0b0b0"/>
<circle cx="336.55" cy="41.38" r="0.52" fill="#b0b0b0"/>
<circle cx="338.38" cy="40.92" r="0.52" fill="#b0b0b0"/>
<circle cx="340.20" cy="40.46" r="0.52" fill="#b0b0b0"/>
<circle cx="342.02" cy="40.00" r="0.52" fill="#b0b0b0"/>
<circle cx="343.85" cy="39.55" r="0.52" fill="#b0b0b0"/>
<circle cx="345.68" cy="39.09" r="0.52" fill="#b0b0b0"/>
<circle cx="347.50" cy="38.63" r="0.52" fill="#b0b0b0"/>
<circle cx="349.32" cy="38.17" r="0.52" fill="#b0b0b0"/>
<circle cx="351.15" cy="37.71" r="0.52" fill="#b0b0b0"/>
<circle cx="352.98" cy="37.26" r="0.52" fill="#b0b0b0"/>
<circle cx="354.80" cy="36.80" r="0.52" fill="#b0b0b0"/>
<circle cx="356.62" cy="36.34" r="0.52" fill="#b0b0b0"/>
<circle cx="358.45" cy="35.88" r="0.52" fill="#b0b0b0"/>
<circle cx="360.27" cy="35.42" r="0.52" fill="#b0b0b0"/>
<circle cx="362.10" cy="34.97" r="0.52" fill="#b0b0b0"/>
<circle cx="363.93" cy="34.51" r="0.52" fill="#b0b0b0"/>
<circle cx="365.75" cy="34.05" r="0.52" fill="#b0b0b0"/>
<circle cx="367.57" cy="33.59" r="0.52" fill="#b0b0b0"/>
<circle cx="369.40" cy="33.13" r="0.52" fill="#b0b0b0"/>
<circle cx="371.23" cy="32.68" r="0.52" fill="#b0b0b0"/>
<circle cx="373.05" cy="32.22" r="0.52" fill="#b0b0b0"/>
<circle cx="374.88" cy="31.76" r="0.52" fill="#b0b0b0"/>
<circle cx="376.70" cy="31.30" r="0.52" fill="#b0b0b0"/>
<circle cx="378.52" cy="30.84" r="0.52" fill="#b0b0b0"/>
<circle cx="380.35" cy="30.39" r="0.52" fill="#b0b0b0"/>
<circle cx="382.18" cy="29.93" r="0.52" fill="#b0b0b0"/>
<circle cx="384.00" cy="29.47" r="0.52" fill="#b0b0b0"/>
<circle cx="385.82" cy="29.01" r="0.52" fill="#b0b0b0"/>
<circle cx="387.65" cy="28.55" r="0.52" fill="#b0b0b0"/>
<circle cx="389.48" cy="28.10" r="0.52" fill="#b0b0b0"/>
<circle cx="391.30" cy="27.64" r="0.52" fill="#b0b0b0"/>
<circle cx="393.12" cy="27.18" r="0.52" fill="#b0b0b0"/>
<circle cx="394.95" cy="26.72" r="0.52" fill="#b0b0b0"/>
<circle cx="396.77" cy="26.26" r="0.52" fill="#b0b0b0"/>
<circle cx="398.60" cy="25.81" r="0.52" fill="#b0b0b0"/>
<circle cx="400.43" cy="25.35" r="0.52" fill="#b0b0b0"/>
<circle cx="402.25" cy="24.89" r="0.52" fill="#b0b0b0"/>
<circle cx="404.07" cy="24.43" r="0.52" fill="#b0b0b0"/>
<circle cx="405.90" cy="23.97" r="0.52" fill="#b0b0b0"/>
<circle cx="407.73" cy="23.52" r="0.52" fill="#b0b0b0"/>
<circle cx="409.55" cy="23.06" r="0.52" fill="#b0b0b0"/>
<circle cx="411.38" cy="22.60" r="0.52" fill="#b0b0b0"/>
<circle cx="320.12" cy="71.80" r="0.6" fill="#777"/>
<circle cx="321.95" cy="71.00" r="0.6" fill="#777"/>
<circle cx="323.77" cy="70.19" r="0.6" fill="#777"/>
<circle cx="325.60" cy="69.39" r="0.6" fill="#777"/>
<circle cx="327.43" cy="68.58" r="0.6" fill="#777"/>
<circle cx="329.25" cy="67.78" r="0.6" fill="#777"/>
<circle cx="331.07" cy="66.98" r="0.6" fill="#777"/>
<circle cx="332.90" cy="66.17" r="0.6" fill="#777"/>
<circle cx="334.73" cy="65.37" r="0.6" fill="#777"/>
<circle cx="336.55" cy="64.56" r="0.6" fill="#777"/>
<circle cx="338.38" cy="63.76" r="0.6" fill="#777"/>
<circle cx="340.20" cy="62.96" r="0.6" fill="#777"/>
<circle cx="342.02" cy="62.15" r="0.6" fill="#777"/>
<circle cx="343.85" cy="61.35" r="0.6" fill="#777"/>
<circle cx="345.68" cy="60.54" r="0.6" fill="#777"/>
<circle cx="347.50" cy="59.74" r="0.6" fill="#777"/>
<circle cx="349.32" cy="58.94" r="0.6" fill="#777"/>
<circle cx="351.15" cy="58.13" r="0.6" fill="#777"/>
<circle cx="352.98" cy="57.33" r="0.6" fill="#777"/>
<circle cx="354.80" cy="56.52" r="0.6" fill="#777"/>
<circle cx="356.62" cy="55.72" r="0.6" fill="#777"/>
<circle cx="358.45" cy="54.92" r="0.6" fill="#777"/>
<circle cx="360.27" cy="54.11" r="0.6" fill="#777"/>
<circle cx="362.10" cy="53.31" r="0.6" fill="#777"/>
<circle cx="363.93" cy="52.50" r="0.6" fill="#777"/>
<circle cx="365.75" cy="51.70" r="0.6" fill="#777"/>
<circle cx="367.57" cy="50.90" r="0.6" fill="#777"/>
<circle cx="369.40" cy="50.09" r="0.6" fill="#777"/>
<circle cx="371.23" cy="49.29" r="0.6" fill="#777"/>
<circle cx="373.05" cy="48.48" r="0.6" fill="#777"/>
<circle cx="374.88" cy="47.68" r="0.6" fill="#777"/>
<circle cx="376.70" cy="46.88" r="0.6" fill="#777"/>
<circle cx="378.52" cy="46.07" r="0.6" fill="#777"/>
<circle cx="380.35" cy="45.27" r="0.6" fill="#777"/>
<circle cx="382.18" cy="44.46" r="0.6" fill="#777"/>
<circle cx="384.00" cy="43.66" r="0.6" fill="#777"/>
<circle cx="385.82" cy="42.86" r="0.6" fill="#777"/>
<circle cx="387.65" cy="42.05" r="0.6" fill="#777"/>
<circle cx="389.48" cy="41.25" r="0.6" fill="#777"/>
<circle cx="391.30" cy="40.44" r="0.6" fill="#777"/>
<circle cx="393.12" cy="39.64" r="0.6" fill="#777"/>
<circle cx="394.95" cy="38.84" r="0.6" fill="#777"/>
<circle cx="396.77" cy="38.03" r="0.6" fill="#777"/>
<circle cx="398.60" cy="37.23" r="0.6" fill="#777"/>
<circle cx="400.43" cy="36.42" r="0.6" fill="#777"/>
<circle cx="402.25" cy="35.62" r="0.6" fill="#777"/>
<circle cx="404.07" cy="34.82" r="0.6" fill="#777"/>
<circle cx="405.90" cy="34.01" r="0.6" fill="#777"/>
<circle cx="407.73" cy="33.21" r="0.6" fill="#777"/>
<circle cx="409.55" cy="32.40" r="0.6" fill="#777"/>
<circle cx="411.38" cy="31.60" r="0.6" fill="#777"/>
<circle cx="320.12" cy="93.50" r="0.7" fill="#333"/>
<circle cx="321.95" cy="92.24" r="0.7" fill="#333"/>
<circle cx="323.77" cy="90.98" r="0.7" fill="#333"/>
<circle cx="325.60" cy="89.73" r="0.7" fill="#333"/>
<circle cx="327.43" cy="88.47" r="0.7" fill="#333"/>
<circle cx="329.25" cy="87.21" r="0.7" fill="#333"/>
<circle cx="331.07" cy="85.95" r="0.7" fill="#333"/>
<circle cx="332.90" cy="84.69" r="0.7" fill="#333"/>
<circle cx="334.73" cy="83.44" r="0.7" fill="#333"/>
<circle cx="336.55" cy="82.18" r="0.7" fill="#333"/>
<circle cx="338.38" cy="80.92" r="0.7" fill="#333"/>
<circle cx="340.20" cy="79.66" r="0.7" fill="#333"/>
<circle cx="342.02" cy="78.40" r="0.7" fill="#333"/>
<circle cx="343.85" cy="77.15" r="0.7" fill="#333"/>
<circle cx="345.68" cy="75.89" r="0.7" fill="#333"/>
<circle cx="347.50" cy="74.63" r="0.7" fill="#333"/>
<circle cx="349.32" cy="73.37" r="0.7" fill="#333"/>
<circle cx="351.15" cy="72.11" r="0.7" fill="#333"/>
<circle cx="352.98" cy="70.86" r="0.7" fill="#333"/>
<circle cx="354.80" cy="69.60" r="0.7" fill="#333"/>
<circle cx="356.62" cy="68.34" r="0.7" fill="#333"/>
<circle cx="358.45" cy="67.08" r="0.7" fill="#333"/>
<circle cx="360.27" cy="65.82" r="0.7" fill="#333"/>
<circle cx="362.10" cy="64.57" r="0.7" fill="#333"/>
<circle cx="363.93" cy="63.31" r="0.7" fill="#333"/>
<circle cx="365.75" cy="62.05" r="0.7" fill="#333"/>
<circle cx="367.57" cy="60.79" r="0.7" fill="#333"/>
<circle cx="369.40" cy="59.53" r="0.7" fill="#333"/>
<circle cx="371.23" cy="58.28" r="0.7" fill="#333"/>
<circle cx="373.05" cy="57.02" r="0.7" fill="#333"/>
<circle cx="374.88" cy="55.76" r="0.7" fill="#333"/>
<circle cx="376.70" cy="54.50" r="0.7" fill="#333"/>
<circle cx="378.52" cy="53.24" r="0.7" fill="#333"/>
<circle cx="380.35" cy="51.99" r="0.7" fill="#333"/>
<circle cx="382.18" cy="50.73" r="0.7" fill="#333"/>
<circle cx="384.00" cy="49.47" r="0.7" fill="#333"/>
<circle cx="385.82" cy="48.21" r="0.7" fill="#333"/>
<circle cx="387.65" cy="46.95" r="0.7" fill="#333"/>
<circle cx="389.48" cy="45.70" r="0.7" fill="#333"/>
<circle cx="391.30" cy="44.44" r="0.7" fill="#333"/>
<circle cx="393.12" cy="43.18" r="0.7" fill="#333"/>
<circle cx="394.95" cy="41.92" r="0.7" fill="#333"/>
<circle cx="396.77" cy="40.66" r="0.7" fill="#333"/>
<circle cx="398.60" cy="39.41" r="0.7" fill="#333"/>
<circle cx="400.43" cy="38.15" r="0.7" fill="#333"/>
<circle cx="402.25" cy="36.89" r="0.7" fill="#333"/>
<circle cx="404.07" cy="35.63" r="0.7" fill="#333"/>
<circle cx="405.90" cy="34.37" r="0.7" fill="#333"/>
<circle cx="407.73" cy="33.12" r="0.7" fill="#333"/>
<circle cx="409.55" cy="31.86" r="0.7" fill="#333"/>
<circle cx="411.38" cy="30.60" r="0.7" fill="#333"/>
<circle cx="331.62" cy="85.57" r="1.7" fill="#fff" stroke="#999" stroke-width="0.55"/>
<circle cx="331.62" cy="66.73" r="1.7" fill="#fff" stroke="#999" stroke-width="0.55"/>
<circle cx="331.62" cy="42.61" r="1.7" fill="#fff" stroke="#999" stroke-width="0.55"/>
<circle cx="320.12" cy="104.60" r="0.9" fill="#000"/>
<circle cx="321.95" cy="102.75" r="0.9" fill="#000"/>
<circle cx="323.77" cy="100.90" r="0.9" fill="#000"/>
<circle cx="325.60" cy="99.06" r="0.9" fill="#000"/>
<circle cx="327.43" cy="97.21" r="0.9" fill="#000"/>
<circle cx="329.25" cy="95.36" r="0.9" fill="#000"/>
<circle cx="331.07" cy="93.51" r="0.9" fill="#000"/>
<circle cx="332.90" cy="91.66" r="0.9" fill="#000"/>
<circle cx="334.73" cy="89.82" r="0.9" fill="#000"/>
<circle cx="336.55" cy="87.97" r="0.9" fill="#000"/>
<circle cx="338.38" cy="86.12" r="0.9" fill="#000"/>
<circle cx="340.20" cy="84.27" r="0.9" fill="#000"/>
<circle cx="342.02" cy="82.42" r="0.9" fill="#000"/>
<circle cx="343.85" cy="80.58" r="0.9" fill="#000"/>
<circle cx="345.68" cy="78.73" r="0.9" fill="#000"/>
<circle cx="347.50" cy="76.88" r="0.9" fill="#000"/>
<circle cx="349.32" cy="75.03" r="0.9" fill="#000"/>
<circle cx="351.15" cy="73.18" r="0.9" fill="#000"/>
<circle cx="352.98" cy="71.34" r="0.9" fill="#000"/>
<circle cx="354.80" cy="69.49" r="0.9" fill="#000"/>
<circle cx="356.62" cy="67.64" r="0.9" fill="#000"/>
<circle cx="358.45" cy="65.79" r="0.9" fill="#000"/>
<circle cx="360.27" cy="63.94" r="0.9" fill="#000"/>
<circle cx="362.10" cy="62.10" r="0.9" fill="#000"/>
<circle cx="363.93" cy="60.25" r="0.9" fill="#000"/>
<circle cx="365.75" cy="58.40" r="0.9" fill="#000"/>
<circle cx="367.57" cy="56.55" r="0.9" fill="#000"/>
<circle cx="369.40" cy="54.70" r="0.9" fill="#000"/>
<circle cx="371.23" cy="52.86" r="0.9" fill="#000"/>
<circle cx="373.05" cy="51.01" r="0.9" fill="#000"/>
<circle cx="374.88" cy="49.16" r="0.9" fill="#000"/>
<circle cx="376.70" cy="47.31" r="0.9" fill="#000"/>
<circle cx="378.52" cy="45.46" r="0.9" fill="#000"/>
<circle cx="380.35" cy="43.62" r="0.9" fill="#000"/>
<circle cx="382.18" cy="41.77" r="0.9" fill="#000"/>
<circle cx="384.00" cy="39.92" r="0.9" fill="#000"/>
<circle cx="385.82" cy="38.07" r="0.9" fill="#000"/>
<circle cx="387.65" cy="36.22" r="0.9" fill="#000"/>
<circle cx="389.48" cy="34.38" r="0.9" fill="#000"/>
<circle cx="391.30" cy="32.53" r="0.9" fill="#000"/>
<circle cx="393.12" cy="30.68" r="0.9" fill="#000"/>
<circle cx="394.95" cy="28.83" r="0.9" fill="#000"/>
<circle cx="396.77" cy="26.98" r="0.9" fill="#000"/>
<circle cx="398.60" cy="25.14" r="0.9" fill="#000"/>
<circle cx="400.43" cy="23.29" r="0.9" fill="#000"/>
<circle cx="402.25" cy="21.44" r="0.9" fill="#000"/>
<circle cx="404.07" cy="19.59" r="0.9" fill="#000"/>
<circle cx="405.90" cy="17.74" r="0.9" fill="#000"/>
<circle cx="407.73" cy="15.90" r="0.9" fill="#000"/>
<circle cx="409.55" cy="14.05" r="0.9" fill="#000"/>
<circle cx="411.38" cy="12.20" r="0.9" fill="#000"/>
<circle cx="320.12" cy="104.20" r="0.85" fill="#000"/>
<circle cx="321.95" cy="102.56" r="0.85" fill="#000"/>
<circle cx="323.77" cy="100.92" r="0.85" fill="#000"/>
<circle cx="325.60" cy="99.28" r="0.85" fill="#000"/>
<circle cx="327.43" cy="97.64" r="0.85" fill="#000"/>
<circle cx="329.25" cy="96.00" r="0.85" fill="#000"/>
<circle cx="331.07" cy="94.36" r="0.85" fill="#000"/>
<circle cx="332.90" cy="92.72" r="0.85" fill="#000"/>
<circle cx="334.73" cy="91.08" r="0.85" fill="#000"/>
<circle cx="336.55" cy="89.44" r="0.85" fill="#000"/>
<circle cx="338.38" cy="87.80" r="0.85" fill="#000"/>
<circle cx="340.20" cy="86.16" r="0.85" fill="#000"/>
<circle cx="342.02" cy="84.52" r="0.85" fill="#000"/>
<circle cx="343.85" cy="82.88" r="0.85" fill="#000"/>
<circle cx="345.68" cy="81.24" r="0.85" fill="#000"/>
<circle cx="347.50" cy="79.60" r="0.85" fill="#000"/>
<circle cx="349.32" cy="77.96" r="0.85" fill="#000"/>
<circle cx="351.15" cy="76.32" r="0.85" fill="#000"/>
<circle cx="352.98" cy="74.68" r="0.85" fill="#000"/>
<circle cx="354.80" cy="73.04" r="0.85" fill="#000"/>
<circle cx="356.62" cy="71.40" r="0.85" fill="#000"/>
<circle cx="358.45" cy="69.76" r="0.85" fill="#000"/>
<circle cx="360.27" cy="68.12" r="0.85" fill="#000"/>
<circle cx="362.10" cy="66.48" r="0.85" fill="#000"/>
<circle cx="363.93" cy="64.84" r="0.85" fill="#000"/>
<circle cx="365.75" cy="63.20" r="0.85" fill="#000"/>
<circle cx="367.57" cy="61.56" r="0.85" fill="#000"/>
<circle cx="369.40" cy="59.92" r="0.85" fill="#000"/>
<circle cx="371.23" cy="58.28" r="0.85" fill="#000"/>
<circle cx="373.05" cy="56.64" r="0.85" fill="#000"/>
<circle cx="374.88" cy="55.00" r="0.85" fill="#000"/>
<circle cx="376.70" cy="53.36" r="0.85" fill="#000"/>
<circle cx="378.52" cy="51.72" r="0.85" fill="#000"/>
<circle cx="380.35" cy="50.08" r="0.85" fill="#000"/>
<circle cx="382.18" cy="48.44" r="0.85" fill="#000"/>
<circle cx="384.00" cy="46.80" r="0.85" fill="#000"/>
<circle cx="385.82" cy="45.16" r="0.85" fill="#000"/>
<circle cx="387.65" cy="43.52" r="0.85" fill="#000"/>
<circle cx="389.48" cy="41.88" r="0.85" fill="#000"/>
<circle cx="391.30" cy="40.24" r="0.85" fill="#000"/>
<circle cx="393.12" cy="38.60" r="0.85" fill="#000"/>
<circle cx="394.95" cy="36.96" r="0.85" fill="#000"/>
<circle cx="396.77" cy="35.32" r="0.85" fill="#000"/>
<circle cx="398.60" cy="33.68" r="0.85" fill="#000"/>
<circle cx="400.43" cy="32.04" r="0.85" fill="#000"/>
<circle cx="402.25" cy="30.40" r="0.85" fill="#000"/>
<circle cx="404.07" cy="28.76" r="0.85" fill="#000"/>
<circle cx="405.90" cy="27.12" r="0.85" fill="#000"/>
<circle cx="407.73" cy="25.48" r="0.85" fill="#000"/>
<circle cx="409.55" cy="23.84" r="0.85" fill="#000"/>
<circle cx="411.38" cy="22.20" r="0.85" fill="#000"/>
<circle cx="320.12" cy="107.20" r="1.15" fill="#000"/>
<circle cx="321.95" cy="105.36" r="1.15" fill="#000"/>
<circle cx="323.77" cy="103.52" r="1.15" fill="#000"/>
<circle cx="325.60" cy="101.69" r="1.15" fill="#000"/>
<circle cx="327.43" cy="99.85" r="1.15" fill="#000"/>
<circle cx="329.25" cy="98.01" r="1.15" fill="#000"/>
<circle cx="331.07" cy="96.17" r="1.15" fill="#000"/>
<circle cx="332.90" cy="94.33" r="1.15" fill="#000"/>
<circle cx="334.73" cy="92.50" r="1.15" fill="#000"/>
<circle cx="336.55" cy="90.66" r="1.15" fill="#000"/>
<circle cx="338.38" cy="88.82" r="1.15" fill="#000"/>
<circle cx="340.20" cy="86.98" r="1.15" fill="#000"/>
<circle cx="342.02" cy="85.14" r="1.15" fill="#000"/>
<circle cx="343.85" cy="83.31" r="1.15" fill="#000"/>
<circle cx="345.68" cy="81.47" r="1.15" fill="#000"/>
<circle cx="347.50" cy="79.63" r="1.15" fill="#000"/>
<circle cx="349.32" cy="77.79" r="1.15" fill="#000"/>
<circle cx="351.15" cy="75.95" r="1.15" fill="#000"/>
<circle cx="352.98" cy="74.12" r="1.15" fill="#000"/>
<circle cx="354.80" cy="72.28" r="1.15" fill="#000"/>
<circle cx="356.62" cy="70.44" r="1.15" fill="#000"/>
<circle cx="358.45" cy="68.60" r="1.15" fill="#000"/>
<circle cx="360.27" cy="66.76" r="1.15" fill="#000"/>
<circle cx="362.10" cy="64.93" r="1.15" fill="#000"/>
<circle cx="363.93" cy="63.09" r="1.15" fill="#000"/>
<circle cx="365.75" cy="61.25" r="1.15" fill="#000"/>
<circle cx="367.57" cy="59.41" r="1.15" fill="#000"/>
<circle cx="369.40" cy="57.57" r="1.15" fill="#000"/>
<circle cx="371.23" cy="55.74" r="1.15" fill="#000"/>
<circle cx="373.05" cy="53.90" r="1.15" fill="#000"/>
<circle cx="374.88" cy="52.06" r="1.15" fill="#000"/>
<circle cx="376.70" cy="50.22" r="1.15" fill="#000"/>
<circle cx="378.52" cy="48.38" r="1.15" fill="#000"/>
<circle cx="380.35" cy="46.55" r="1.15" fill="#000"/>
<circle cx="382.18" cy="44.71" r="1.15" fill="#000"/>
<circle cx="384.00" cy="42.87" r="1.15" fill="#000"/>
<circle cx="385.82" cy="41.03" r="1.15" fill="#000"/>
<circle cx="387.65" cy="39.19" r="1.15" fill="#000"/>
<circle cx="389.48" cy="37.36" r="1.15" fill="#000"/>
<circle cx="391.30" cy="35.52" r="1.15" fill="#000"/>
<circle cx="393.12" cy="33.68" r="1.15" fill="#000"/>
<circle cx="394.95" cy="31.84" r="1.15" fill="#000"/>
<circle cx="396.77" cy="30.00" r="1.15" fill="#000"/>
<circle cx="398.60" cy="28.17" r="1.15" fill="#000"/>
<circle cx="400.43" cy="26.33" r="1.15" fill="#000"/>
<circle cx="402.25" cy="24.49" r="1.15" fill="#000"/>
<circle cx="404.07" cy="22.65" r="1.15" fill="#000"/>
<circle cx="405.90" cy="20.81" r="1.15" fill="#000"/>
<circle cx="407.73" cy="18.98" r="1.15" fill="#000"/>
<circle cx="409.55" cy="17.14" r="1.15" fill="#000"/>
<circle cx="411.38" cy="15.30" r="1.15" fill="#000"/>
<circle cx="320.12" cy="116.25" r="1.55" fill="#000"/>
<circle cx="321.95" cy="114.12" r="1.55" fill="#000"/>
<circle cx="323.77" cy="111.99" r="1.55" fill="#000"/>
<circle cx="325.60" cy="109.86" r="1.55" fill="#000"/>
<circle cx="327.43" cy="107.73" r="1.55" fill="#000"/>
<circle cx="329.25" cy="105.59" r="1.55" fill="#000"/>
<circle cx="331.07" cy="103.46" r="1.55" fill="#000"/>
<circle cx="332.90" cy="101.33" r="1.55" fill="#000"/>
<circle cx="334.73" cy="99.20" r="1.55" fill="#000"/>
<circle cx="336.55" cy="97.07" r="1.55" fill="#000"/>
<circle cx="338.38" cy="94.94" r="1.55" fill="#000"/>
<circle cx="340.20" cy="92.81" r="1.55" fill="#000"/>
<circle cx="342.02" cy="90.68" r="1.55" fill="#000"/>
<circle cx="343.85" cy="88.55" r="1.55" fill="#000"/>
<circle cx="345.68" cy="86.42" r="1.55" fill="#000"/>
<circle cx="347.50" cy="84.28" r="1.55" fill="#000"/>
<circle cx="349.32" cy="82.15" r="1.55" fill="#000"/>
<circle cx="351.15" cy="80.02" r="1.55" fill="#000"/>
<circle cx="352.98" cy="77.89" r="1.55" fill="#000"/>
<circle cx="354.80" cy="75.76" r="1.55" fill="#000"/>
<circle cx="356.62" cy="73.63" r="1.55" fill="#000"/>
<circle cx="358.45" cy="71.50" r="1.55" fill="#000"/>
<circle cx="360.27" cy="69.37" r="1.55" fill="#000"/>
<circle cx="362.10" cy="67.24" r="1.55" fill="#000"/>
<circle cx="363.93" cy="65.11" r="1.55" fill="#000"/>
<circle cx="365.75" cy="62.98" r="1.55" fill="#000"/>
<circle cx="367.57" cy="60.84" r="1.55" fill="#000"/>
<circle cx="369.40" cy="58.71" r="1.55" fill="#000"/>
<circle cx="371.23" cy="56.58" r="1.55" fill="#000"/>
<circle cx="373.05" cy="54.45" r="1.55" fill="#000"/>
<circle cx="374.88" cy="52.32" r="1.55" fill="#000"/>
<circle cx="376.70" cy="50.19" r="1.55" fill="#000"/>
<circle cx="378.52" cy="48.06" r="1.55" fill="#000"/>
<circle cx="380.35" cy="45.93" r="1.55" fill="#000"/>
<circle cx="382.18" cy="43.80" r="1.55" fill="#000"/>
<circle cx="384.00" cy="41.67" r="1.55" fill="#000"/>
<circle cx="385.82" cy="39.53" r="1.55" fill="#000"/>
<circle cx="387.65" cy="37.40" r="1.55" fill="#000"/>
<circle cx="389.48" cy="35.27" r="1.55" fill="#000"/>
<circle cx="391.30" cy="33.14" r="1.55" fill="#000"/>
<circle cx="393.12" cy="31.01" r="1.55" fill="#000"/>
<circle cx="394.95" cy="28.88" r="1.55" fill="#000"/>
<circle cx="396.77" cy="26.75" r="1.55" fill="#000"/>
<circle cx="398.60" cy="24.62" r="1.55" fill="#000"/>
<circle cx="400.43" cy="22.49" r="1.55" fill="#000"/>
<circle cx="402.25" cy="20.36" r="1.55" fill="#000"/>
<circle cx="404.07" cy="18.22" r="1.55" fill="#000"/>
<circle cx="405.90" cy="16.09" r="1.55" fill="#000"/>
<circle cx="407.73" cy="13.96" r="1.55" fill="#000"/>
<circle cx="409.55" cy="11.83" r="1.55" fill="#000"/>
<circle cx="411.38" cy="9.70" r="1.55" fill="#000"/>
<line x1="358.30" y1="61.50" x2="376.70" y2="61.50" stroke="#666" stroke-width="0.9"/>
<line x1="367.50" y1="41.15" x2="367.50" y2="81.85" stroke="#666" stroke-width="0.9"/>
<rect x="323.03" y="170.15" width="4.2" height="0.95" fill="#000"/>
<text transform="translate(327.23,173.05) scale(1,1.17)" font-size="6.0" font-weight="bold" stroke="#000" stroke-width="0.22">0.2</text>
<text transform="translate(364.08,173.05) scale(1,1.17)" font-size="6.0" font-weight="bold" stroke="#000" stroke-width="0.22">0</text>
<text transform="translate(398.08,173.05) scale(1,1.17)" font-size="6.0" font-weight="bold" stroke="#000" stroke-width="0.22">0.2</text>
<rect x="293.56" y="2.55" width="4.2" height="0.95" fill="#000"/>
<text transform="translate(297.76,5.45) scale(1,1.17)" font-size="6.0" font-weight="bold" stroke="#000" stroke-width="0.22">0.2</text>
<rect x="293.56" y="43.28" width="4.2" height="0.95" fill="#000"/>
<text transform="translate(297.76,46.18) scale(1,1.17)" font-size="6.0" font-weight="bold" stroke="#000" stroke-width="0.22">0.1</text>
<text transform="translate(302.76,86.90) scale(1,1.17)" font-size="6.0" font-weight="bold" stroke="#000" stroke-width="0.22">0</text>
<text transform="translate(297.76,127.62) scale(1,1.17)" font-size="6.0" font-weight="bold" stroke="#000" stroke-width="0.22">0.1</text>
<text transform="translate(297.76,168.35) scale(1,1.17)" font-size="6.0" font-weight="bold" stroke="#000" stroke-width="0.22">0.2</text>
<text transform="translate(360.75,192.25) scale(0.5922,0.8576)" x="-0.298" y="0" font-size="10.0" font-weight="normal" fill="#000"  stroke="#000" stroke-width="0.561">Δ</text>
<text transform="translate(364.95,192.25) scale(0.9770,0.7765)" x="0.210" y="0" font-size="10.0" font-weight="normal" font-style="italic" fill="#000"  stroke="#000" stroke-width="0.459">μ</text>
<text transform="translate(292.10,107.50) rotate(-90) scale(0.8649,0.8866)" x="-0.298" y="0" font-size="10.0" font-weight="normal" fill="#000"  stroke="#000" stroke-width="0.457">ΔE(B−V)</text>
<text transform="translate(292.10,68.50) rotate(-90) scale(0.7866,0.8721)" x="-0.020" y="0" font-size="10.0" font-weight="normal" fill="#000"  stroke="#000" stroke-width="0.483">All</text>
<text transform="translate(317.00,13.65) scale(0.8968,0.9302)" x="-0.220" y="0" font-size="10.0" font-weight="normal" fill="#000"  word-spacing="2.230" stroke="#000" stroke-width="0.547">Y Lac</text>
<rect x="452.00" y="2.55" width="109.50" height="162.90" fill="none" stroke="#2a2a2a" stroke-width="1.1"/>
<line x1="470.25" y1="2.55" x2="470.25" y2="5.95" stroke="#2a2a2a" stroke-width="1"/>
<line x1="470.25" y1="165.45" x2="470.25" y2="162.05" stroke="#2a2a2a" stroke-width="1"/>
<line x1="506.75" y1="2.55" x2="506.75" y2="5.95" stroke="#2a2a2a" stroke-width="1"/>
<line x1="506.75" y1="165.45" x2="506.75" y2="162.05" stroke="#2a2a2a" stroke-width="1"/>
<line x1="543.25" y1="2.55" x2="543.25" y2="5.95" stroke="#2a2a2a" stroke-width="1"/>
<line x1="543.25" y1="165.45" x2="543.25" y2="162.05" stroke="#2a2a2a" stroke-width="1"/>
<line x1="452.00" y1="111.15" x2="455.40" y2="111.15" stroke="#2a2a2a" stroke-width="1"/>
<line x1="561.50" y1="111.15" x2="558.10" y2="111.15" stroke="#2a2a2a" stroke-width="1"/>
<line x1="452.00" y1="56.85" x2="455.40" y2="56.85" stroke="#2a2a2a" stroke-width="1"/>
<line x1="561.50" y1="56.85" x2="558.10" y2="56.85" stroke="#2a2a2a" stroke-width="1"/>
<line x1="508.60" y1="165.45" x2="508.60" y2="106.03" stroke="#3a3a3a" stroke-width="1.05"/>
<line x1="472.60" y1="165.45" x2="472.60" y2="29.70" stroke="#3a3a3a" stroke-width="1.05"/>
<circle cx="461.12" cy="35.53" r="1.15" fill="#000"/>
<circle cx="462.95" cy="39.46" r="1.15" fill="#000"/>
<circle cx="464.77" cy="43.36" r="1.15" fill="#000"/>
<circle cx="466.60" cy="47.22" r="1.15" fill="#000"/>
<circle cx="468.43" cy="51.03" r="1.15" fill="#000"/>
<circle cx="470.25" cy="54.80" r="1.15" fill="#000"/>
<circle cx="472.07" cy="58.52" r="1.15" fill="#000"/>
<circle cx="473.90" cy="62.18" r="1.15" fill="#000"/>
<circle cx="475.73" cy="65.77" r="1.15" fill="#000"/>
<circle cx="477.55" cy="69.30" r="1.15" fill="#000"/>
<circle cx="479.38" cy="72.75" r="1.15" fill="#000"/>
<circle cx="481.20" cy="76.11" r="1.15" fill="#000"/>
<circle cx="483.02" cy="79.37" r="1.15" fill="#000"/>
<circle cx="484.85" cy="82.53" r="1.15" fill="#000"/>
<circle cx="486.68" cy="85.56" r="1.15" fill="#000"/>
<circle cx="488.50" cy="88.45" r="1.15" fill="#000"/>
<circle cx="490.32" cy="91.20" r="1.15" fill="#000"/>
<circle cx="492.15" cy="93.77" r="1.15" fill="#000"/>
<circle cx="493.98" cy="96.15" r="1.15" fill="#000"/>
<circle cx="495.80" cy="98.33" r="1.15" fill="#000"/>
<circle cx="497.62" cy="100.28" r="1.15" fill="#000"/>
<circle cx="499.45" cy="101.97" r="1.15" fill="#000"/>
<circle cx="501.27" cy="103.39" r="1.15" fill="#000"/>
<circle cx="503.10" cy="104.52" r="1.15" fill="#000"/>
<circle cx="504.93" cy="105.35" r="1.15" fill="#000"/>
<circle cx="506.75" cy="105.85" r="1.15" fill="#000"/>
<circle cx="508.57" cy="106.03" r="1.15" fill="#000"/>
<circle cx="510.40" cy="105.88" r="1.15" fill="#000"/>
<circle cx="512.23" cy="105.39" r="1.15" fill="#000"/>
<circle cx="514.05" cy="104.59" r="1.15" fill="#000"/>
<circle cx="515.88" cy="103.48" r="1.15" fill="#000"/>
<circle cx="517.70" cy="102.08" r="1.15" fill="#000"/>
<circle cx="519.52" cy="100.40" r="1.15" fill="#000"/>
<circle cx="521.35" cy="98.47" r="1.15" fill="#000"/>
<circle cx="523.17" cy="96.31" r="1.15" fill="#000"/>
<circle cx="525.00" cy="93.94" r="1.15" fill="#000"/>
<circle cx="526.83" cy="91.38" r="1.15" fill="#000"/>
<circle cx="528.65" cy="88.65" r="1.15" fill="#000"/>
<circle cx="530.48" cy="85.76" r="1.15" fill="#000"/>
<circle cx="532.30" cy="82.74" r="1.15" fill="#000"/>
<circle cx="534.12" cy="79.59" r="1.15" fill="#000"/>
<circle cx="535.95" cy="76.34" r="1.15" fill="#000"/>
<circle cx="537.77" cy="72.98" r="1.15" fill="#000"/>
<circle cx="539.60" cy="69.54" r="1.15" fill="#000"/>
<circle cx="541.42" cy="66.02" r="1.15" fill="#000"/>
<circle cx="543.25" cy="62.43" r="1.15" fill="#000"/>
<circle cx="545.08" cy="58.77" r="1.15" fill="#000"/>
<circle cx="546.90" cy="55.06" r="1.15" fill="#000"/>
<circle cx="548.73" cy="51.29" r="1.15" fill="#000"/>
<circle cx="550.55" cy="47.48" r="1.15" fill="#000"/>
<circle cx="552.38" cy="43.63" r="1.15" fill="#000"/>
<rect x="464.03" y="170.15" width="4.2" height="0.95" fill="#000"/>
<text transform="translate(468.23,173.05) scale(1,1.17)" font-size="6.0" font-weight="bold" stroke="#000" stroke-width="0.22">0.2</text>
<text transform="translate(505.08,173.05) scale(1,1.17)" font-size="6.0" font-weight="bold" stroke="#000" stroke-width="0.22">0</text>
<text transform="translate(539.08,173.05) scale(1,1.17)" font-size="6.0" font-weight="bold" stroke="#000" stroke-width="0.22">0.2</text>
<text transform="translate(443.76,168.35) scale(1,1.17)" font-size="6.0" font-weight="bold" stroke="#000" stroke-width="0.22">0</text>
<text transform="translate(435.42,114.05) scale(1,1.17)" font-size="6.0" font-weight="bold" stroke="#000" stroke-width="0.22">0.01</text>
<text transform="translate(435.42,59.75) scale(1,1.17)" font-size="6.0" font-weight="bold" stroke="#000" stroke-width="0.22">0.02</text>
<text transform="translate(501.75,192.25) scale(0.5922,0.8576)" x="-0.298" y="0" font-size="10.0" font-weight="normal" fill="#000"  stroke="#000" stroke-width="0.561">Δ</text>
<text transform="translate(505.95,192.25) scale(0.9770,0.7765)" x="0.210" y="0" font-size="10.0" font-weight="normal" font-style="italic" fill="#000"  stroke="#000" stroke-width="0.459">μ</text>
<text transform="translate(432.70,91.90) rotate(-90) scale(0.7545,0.8576)" x="-0.820" y="0" font-size="10.0" font-weight="normal" fill="#000"  stroke="#000" stroke-width="0.497">RMS</text>
<text transform="translate(458.00,13.65) scale(0.8968,0.9302)" x="-0.220" y="0" font-size="10.0" font-weight="normal" fill="#000"  word-spacing="2.230" stroke="#000" stroke-width="0.547">Y Lac</text>
<rect x="26.50" y="203.00" width="109.80" height="162.60" fill="none" stroke="#2a2a2a" stroke-width="1.1"/>
<line x1="44.80" y1="203.00" x2="44.80" y2="206.40" stroke="#2a2a2a" stroke-width="1"/>
<line x1="44.80" y1="365.60" x2="44.80" y2="362.20" stroke="#2a2a2a" stroke-width="1"/>
<line x1="81.40" y1="203.00" x2="81.40" y2="206.40" stroke="#2a2a2a" stroke-width="1"/>
<line x1="81.40" y1="365.60" x2="81.40" y2="362.20" stroke="#2a2a2a" stroke-width="1"/>
<line x1="118.00" y1="203.00" x2="118.00" y2="206.40" stroke="#2a2a2a" stroke-width="1"/>
<line x1="118.00" y1="365.60" x2="118.00" y2="362.20" stroke="#2a2a2a" stroke-width="1"/>
<line x1="26.50" y1="243.65" x2="29.90" y2="243.65" stroke="#2a2a2a" stroke-width="1"/>
<line x1="136.30" y1="243.65" x2="132.90" y2="243.65" stroke="#2a2a2a" stroke-width="1"/>
<line x1="26.50" y1="324.95" x2="29.90" y2="324.95" stroke="#2a2a2a" stroke-width="1"/>
<line x1="136.30" y1="324.95" x2="132.90" y2="324.95" stroke="#2a2a2a" stroke-width="1"/>
<line x1="81.50" y1="203.00" x2="81.50" y2="365.60" stroke="#383838" stroke-width="1.05"/>
<line x1="26.50" y1="284.50" x2="136.30" y2="284.50" stroke="#383838" stroke-width="1.05"/>
<circle cx="35.65" cy="331.80" r="0.52" fill="#b0b0b0"/>
<circle cx="37.48" cy="331.37" r="0.52" fill="#b0b0b0"/>
<circle cx="39.31" cy="330.94" r="0.52" fill="#b0b0b0"/>
<circle cx="41.14" cy="330.50" r="0.52" fill="#b0b0b0"/>
<circle cx="42.97" cy="330.07" r="0.52" fill="#b0b0b0"/>
<circle cx="44.80" cy="329.64" r="0.52" fill="#b0b0b0"/>
<circle cx="46.63" cy="329.21" r="0.52" fill="#b0b0b0"/>
<circle cx="48.46" cy="328.78" r="0.52" fill="#b0b0b0"/>
<circle cx="50.29" cy="328.34" r="0.52" fill="#b0b0b0"/>
<circle cx="52.12" cy="327.91" r="0.52" fill="#b0b0b0"/>
<circle cx="53.95" cy="327.48" r="0.52" fill="#b0b0b0"/>
<circle cx="55.78" cy="327.05" r="0.52" fill="#b0b0b0"/>
<circle cx="57.61" cy="326.62" r="0.52" fill="#b0b0b0"/>
<circle cx="59.44" cy="326.18" r="0.52" fill="#b0b0b0"/>
<circle cx="61.27" cy="325.75" r="0.52" fill="#b0b0b0"/>
<circle cx="63.10" cy="325.32" r="0.52" fill="#b0b0b0"/>
<circle cx="64.93" cy="324.89" r="0.52" fill="#b0b0b0"/>
<circle cx="66.76" cy="324.46" r="0.52" fill="#b0b0b0"/>
<circle cx="68.59" cy="324.02" r="0.52" fill="#b0b0b0"/>
<circle cx="70.42" cy="323.59" r="0.52" fill="#b0b0b0"/>
<circle cx="72.25" cy="323.16" r="0.52" fill="#b0b0b0"/>
<circle cx="74.08" cy="322.73" r="0.52" fill="#b0b0b0"/>
<circle cx="75.91" cy="322.30" r="0.52" fill="#b0b0b0"/>
<circle cx="77.74" cy="321.86" r="0.52" fill="#b0b0b0"/>
<circle cx="79.57" cy="321.43" r="0.52" fill="#b0b0b0"/>
<circle cx="81.40" cy="321.00" r="0.52" fill="#b0b0b0"/>
<circle cx="83.23" cy="320.57" r="0.52" fill="#b0b0b0"/>
<circle cx="85.06" cy="320.14" r="0.52" fill="#b0b0b0"/>
<circle cx="86.89" cy="319.70" r="0.52" fill="#b0b0b0"/>
<circle cx="88.72" cy="319.27" r="0.52" fill="#b0b0b0"/>
<circle cx="90.55" cy="318.84" r="0.52" fill="#b0b0b0"/>
<circle cx="92.38" cy="318.41" r="0.52" fill="#b0b0b0"/>
<circle cx="94.21" cy="317.98" r="0.52" fill="#b0b0b0"/>
<circle cx="96.04" cy="317.54" r="0.52" fill="#b0b0b0"/>
<circle cx="97.87" cy="317.11" r="0.52" fill="#b0b0b0"/>
<circle cx="99.70" cy="316.68" r="0.52" fill="#b0b0b0"/>
<circle cx="101.53" cy="316.25" r="0.52" fill="#b0b0b0"/>
<circle cx="103.36" cy="315.82" r="0.52" fill="#b0b0b0"/>
<circle cx="105.19" cy="315.38" r="0.52" fill="#b0b0b0"/>
<circle cx="107.02" cy="314.95" r="0.52" fill="#b0b0b0"/>
<circle cx="108.85" cy="314.52" r="0.52" fill="#b0b0b0"/>
<circle cx="110.68" cy="314.09" r="0.52" fill="#b0b0b0"/>
<circle cx="112.51" cy="313.66" r="0.52" fill="#b0b0b0"/>
<circle cx="114.34" cy="313.22" r="0.52" fill="#b0b0b0"/>
<circle cx="116.17" cy="312.79" r="0.52" fill="#b0b0b0"/>
<circle cx="118.00" cy="312.36" r="0.52" fill="#b0b0b0"/>
<circle cx="119.83" cy="311.93" r="0.52" fill="#b0b0b0"/>
<circle cx="121.66" cy="311.50" r="0.52" fill="#b0b0b0"/>
<circle cx="123.49" cy="311.06" r="0.52" fill="#b0b0b0"/>
<circle cx="125.32" cy="310.63" r="0.52" fill="#b0b0b0"/>
<circle cx="127.15" cy="310.20" r="0.52" fill="#b0b0b0"/>
<circle cx="35.65" cy="335.90" r="0.6" fill="#777"/>
<circle cx="37.48" cy="335.09" r="0.6" fill="#777"/>
<circle cx="39.31" cy="334.28" r="0.6" fill="#777"/>
<circle cx="41.14" cy="333.48" r="0.6" fill="#777"/>
<circle cx="42.97" cy="332.67" r="0.6" fill="#777"/>
<circle cx="44.80" cy="331.86" r="0.6" fill="#777"/>
<circle cx="46.63" cy="331.05" r="0.6" fill="#777"/>
<circle cx="48.46" cy="330.24" r="0.6" fill="#777"/>
<circle cx="50.29" cy="329.44" r="0.6" fill="#777"/>
<circle cx="52.12" cy="328.63" r="0.6" fill="#777"/>
<circle cx="53.95" cy="327.82" r="0.6" fill="#777"/>
<circle cx="55.78" cy="327.01" r="0.6" fill="#777"/>
<circle cx="57.61" cy="326.20" r="0.6" fill="#777"/>
<circle cx="59.44" cy="325.40" r="0.6" fill="#777"/>
<circle cx="61.27" cy="324.59" r="0.6" fill="#777"/>
<circle cx="63.10" cy="323.78" r="0.6" fill="#777"/>
<circle cx="64.93" cy="322.97" r="0.6" fill="#777"/>
<circle cx="66.76" cy="322.16" r="0.6" fill="#777"/>
<circle cx="68.59" cy="321.36" r="0.6" fill="#777"/>
<circle cx="70.42" cy="320.55" r="0.6" fill="#777"/>
<circle cx="72.25" cy="319.74" r="0.6" fill="#777"/>
<circle cx="74.08" cy="318.93" r="0.6" fill="#777"/>
<circle cx="75.91" cy="318.12" r="0.6" fill="#777"/>
<circle cx="77.74" cy="317.32" r="0.6" fill="#777"/>
<circle cx="79.57" cy="316.51" r="0.6" fill="#777"/>
<circle cx="81.40" cy="315.70" r="0.6" fill="#777"/>
<circle cx="83.23" cy="314.89" r="0.6" fill="#777"/>
<circle cx="85.06" cy="314.08" r="0.6" fill="#777"/>
<circle cx="86.89" cy="313.28" r="0.6" fill="#777"/>
<circle cx="88.72" cy="312.47" r="0.6" fill="#777"/>
<circle cx="90.55" cy="311.66" r="0.6" fill="#777"/>
<circle cx="92.38" cy="310.85" r="0.6" fill="#777"/>
<circle cx="94.21" cy="310.04" r="0.6" fill="#777"/>
<circle cx="96.04" cy="309.24" r="0.6" fill="#777"/>
<circle cx="97.87" cy="308.43" r="0.6" fill="#777"/>
<circle cx="99.70" cy="307.62" r="0.6" fill="#777"/>
<circle cx="101.53" cy="306.81" r="0.6" fill="#777"/>
<circle cx="103.36" cy="306.00" r="0.6" fill="#777"/>
<circle cx="105.19" cy="305.20" r="0.6" fill="#777"/>
<circle cx="107.02" cy="304.39" r="0.6" fill="#777"/>
<circle cx="108.85" cy="303.58" r="0.6" fill="#777"/>
<circle cx="110.68" cy="302.77" r="0.6" fill="#777"/>
<circle cx="112.51" cy="301.96" r="0.6" fill="#777"/>
<circle cx="114.34" cy="301.16" r="0.6" fill="#777"/>
<circle cx="116.17" cy="300.35" r="0.6" fill="#777"/>
<circle cx="118.00" cy="299.54" r="0.6" fill="#777"/>
<circle cx="119.83" cy="298.73" r="0.6" fill="#777"/>
<circle cx="121.66" cy="297.92" r="0.6" fill="#777"/>
<circle cx="123.49" cy="297.12" r="0.6" fill="#777"/>
<circle cx="125.32" cy="296.31" r="0.6" fill="#777"/>
<circle cx="127.15" cy="295.50" r="0.6" fill="#777"/>
<circle cx="35.65" cy="348.00" r="0.7" fill="#333"/>
<circle cx="37.48" cy="346.74" r="0.7" fill="#333"/>
<circle cx="39.31" cy="345.48" r="0.7" fill="#333"/>
<circle cx="41.14" cy="344.22" r="0.7" fill="#333"/>
<circle cx="42.97" cy="342.96" r="0.7" fill="#333"/>
<circle cx="44.80" cy="341.70" r="0.7" fill="#333"/>
<circle cx="46.63" cy="340.44" r="0.7" fill="#333"/>
<circle cx="48.46" cy="339.18" r="0.7" fill="#333"/>
<circle cx="50.29" cy="337.92" r="0.7" fill="#333"/>
<circle cx="52.12" cy="336.66" r="0.7" fill="#333"/>
<circle cx="53.95" cy="335.40" r="0.7" fill="#333"/>
<circle cx="55.78" cy="334.14" r="0.7" fill="#333"/>
<circle cx="57.61" cy="332.88" r="0.7" fill="#333"/>
<circle cx="59.44" cy="331.62" r="0.7" fill="#333"/>
<circle cx="61.27" cy="330.36" r="0.7" fill="#333"/>
<circle cx="63.10" cy="329.10" r="0.7" fill="#333"/>
<circle cx="64.93" cy="327.84" r="0.7" fill="#333"/>
<circle cx="66.76" cy="326.58" r="0.7" fill="#333"/>
<circle cx="68.59" cy="325.32" r="0.7" fill="#333"/>
<circle cx="70.42" cy="324.06" r="0.7" fill="#333"/>
<circle cx="72.25" cy="322.80" r="0.7" fill="#333"/>
<circle cx="74.08" cy="321.54" r="0.7" fill="#333"/>
<circle cx="75.91" cy="320.28" r="0.7" fill="#333"/>
<circle cx="77.74" cy="319.02" r="0.7" fill="#333"/>
<circle cx="79.57" cy="317.76" r="0.7" fill="#333"/>
<circle cx="81.40" cy="316.50" r="0.7" fill="#333"/>
<circle cx="83.23" cy="315.24" r="0.7" fill="#333"/>
<circle cx="85.06" cy="313.98" r="0.7" fill="#333"/>
<circle cx="86.89" cy="312.72" r="0.7" fill="#333"/>
<circle cx="88.72" cy="311.46" r="0.7" fill="#333"/>
<circle cx="90.55" cy="310.20" r="0.7" fill="#333"/>
<circle cx="92.38" cy="308.94" r="0.7" fill="#333"/>
<circle cx="94.21" cy="307.68" r="0.7" fill="#333"/>
<circle cx="96.04" cy="306.42" r="0.7" fill="#333"/>
<circle cx="97.87" cy="305.16" r="0.7" fill="#333"/>
<circle cx="99.70" cy="303.90" r="0.7" fill="#333"/>
<circle cx="101.53" cy="302.64" r="0.7" fill="#333"/>
<circle cx="103.36" cy="301.38" r="0.7" fill="#333"/>
<circle cx="105.19" cy="300.12" r="0.7" fill="#333"/>
<circle cx="107.02" cy="298.86" r="0.7" fill="#333"/>
<circle cx="108.85" cy="297.60" r="0.7" fill="#333"/>
<circle cx="110.68" cy="296.34" r="0.7" fill="#333"/>
<circle cx="112.51" cy="295.08" r="0.7" fill="#333"/>
<circle cx="114.34" cy="293.82" r="0.7" fill="#333"/>
<circle cx="116.17" cy="292.56" r="0.7" fill="#333"/>
<circle cx="118.00" cy="291.30" r="0.7" fill="#333"/>
<circle cx="119.83" cy="290.04" r="0.7" fill="#333"/>
<circle cx="121.66" cy="288.78" r="0.7" fill="#333"/>
<circle cx="123.49" cy="287.52" r="0.7" fill="#333"/>
<circle cx="125.32" cy="286.26" r="0.7" fill="#333"/>
<circle cx="127.15" cy="285.00" r="0.7" fill="#333"/>
<circle cx="79.57" cy="317.76" r="1.7" fill="#fff" stroke="#999" stroke-width="0.55"/>
<circle cx="79.57" cy="316.51" r="1.7" fill="#fff" stroke="#999" stroke-width="0.55"/>
<circle cx="79.57" cy="321.43" r="1.7" fill="#fff" stroke="#999" stroke-width="0.55"/>
<circle cx="35.65" cy="348.60" r="0.9" fill="#000"/>
<circle cx="37.48" cy="346.90" r="0.9" fill="#000"/>
<circle cx="39.31" cy="345.20" r="0.9" fill="#000"/>
<circle cx="41.14" cy="343.51" r="0.9" fill="#000"/>
<circle cx="42.97" cy="341.81" r="0.9" fill="#000"/>
<circle cx="44.80" cy="340.11" r="0.9" fill="#000"/>
<circle cx="46.63" cy="338.41" r="0.9" fill="#000"/>
<circle cx="48.46" cy="336.71" r="0.9" fill="#000"/>
<circle cx="50.29" cy="335.02" r="0.9" fill="#000"/>
<circle cx="52.12" cy="333.32" r="0.9" fill="#000"/>
<circle cx="53.95" cy="331.62" r="0.9" fill="#000"/>
<circle cx="55.78" cy="329.92" r="0.9" fill="#000"/>
<circle cx="57.61" cy="328.22" r="0.9" fill="#000"/>
<circle cx="59.44" cy="326.53" r="0.9" fill="#000"/>
<circle cx="61.27" cy="324.83" r="0.9" fill="#000"/>
<circle cx="63.10" cy="323.13" r="0.9" fill="#000"/>
<circle cx="64.93" cy="321.43" r="0.9" fill="#000"/>
<circle cx="66.76" cy="319.73" r="0.9" fill="#000"/>
<circle cx="68.59" cy="318.04" r="0.9" fill="#000"/>
<circle cx="70.42" cy="316.34" r="0.9" fill="#000"/>
<circle cx="72.25" cy="314.64" r="0.9" fill="#000"/>
<circle cx="74.08" cy="312.94" r="0.9" fill="#000"/>
<circle cx="75.91" cy="311.24" r="0.9" fill="#000"/>
<circle cx="77.74" cy="309.55" r="0.9" fill="#000"/>
<circle cx="79.57" cy="307.85" r="0.9" fill="#000"/>
<circle cx="81.40" cy="306.15" r="0.9" fill="#000"/>
<circle cx="83.23" cy="304.45" r="0.9" fill="#000"/>
<circle cx="85.06" cy="302.75" r="0.9" fill="#000"/>
<circle cx="86.89" cy="301.06" r="0.9" fill="#000"/>
<circle cx="88.72" cy="299.36" r="0.9" fill="#000"/>
<circle cx="90.55" cy="297.66" r="0.9" fill="#000"/>
<circle cx="92.38" cy="295.96" r="0.9" fill="#000"/>
<circle cx="94.21" cy="294.26" r="0.9" fill="#000"/>
<circle cx="96.04" cy="292.57" r="0.9" fill="#000"/>
<circle cx="97.87" cy="290.87" r="0.9" fill="#000"/>
<circle cx="99.70" cy="289.17" r="0.9" fill="#000"/>
<circle cx="101.53" cy="287.47" r="0.9" fill="#000"/>
<circle cx="103.36" cy="285.77" r="0.9" fill="#000"/>
<circle cx="105.19" cy="284.08" r="0.9" fill="#000"/>
<circle cx="107.02" cy="282.38" r="0.9" fill="#000"/>
<circle cx="108.85" cy="280.68" r="0.9" fill="#000"/>
<circle cx="110.68" cy="278.98" r="0.9" fill="#000"/>
<circle cx="112.51" cy="277.28" r="0.9" fill="#000"/>
<circle cx="114.34" cy="275.59" r="0.9" fill="#000"/>
<circle cx="116.17" cy="273.89" r="0.9" fill="#000"/>
<circle cx="118.00" cy="272.19" r="0.9" fill="#000"/>
<circle cx="119.83" cy="270.49" r="0.9" fill="#000"/>
<circle cx="121.66" cy="268.79" r="0.9" fill="#000"/>
<circle cx="123.49" cy="267.10" r="0.9" fill="#000"/>
<circle cx="125.32" cy="265.40" r="0.9" fill="#000"/>
<circle cx="127.15" cy="263.70" r="0.9" fill="#000"/>
<circle cx="35.65" cy="349.50" r="0.85" fill="#000"/>
<circle cx="37.48" cy="347.72" r="0.85" fill="#000"/>
<circle cx="39.31" cy="345.94" r="0.85" fill="#000"/>
<circle cx="41.14" cy="344.16" r="0.85" fill="#000"/>
<circle cx="42.97" cy="342.38" r="0.85" fill="#000"/>
<circle cx="44.80" cy="340.60" r="0.85" fill="#000"/>
<circle cx="46.63" cy="338.82" r="0.85" fill="#000"/>
<circle cx="48.46" cy="337.04" r="0.85" fill="#000"/>
<circle cx="50.29" cy="335.26" r="0.85" fill="#000"/>
<circle cx="52.12" cy="333.48" r="0.85" fill="#000"/>
<circle cx="53.95" cy="331.70" r="0.85" fill="#000"/>
<circle cx="55.78" cy="329.92" r="0.85" fill="#000"/>
<circle cx="57.61" cy="328.14" r="0.85" fill="#000"/>
<circle cx="59.44" cy="326.36" r="0.85" fill="#000"/>
<circle cx="61.27" cy="324.58" r="0.85" fill="#000"/>
<circle cx="63.10" cy="322.80" r="0.85" fill="#000"/>
<circle cx="64.93" cy="321.02" r="0.85" fill="#000"/>
<circle cx="66.76" cy="319.24" r="0.85" fill="#000"/>
<circle cx="68.59" cy="317.46" r="0.85" fill="#000"/>
<circle cx="70.42" cy="315.68" r="0.85" fill="#000"/>
<circle cx="72.25" cy="313.90" r="0.85" fill="#000"/>
<circle cx="74.08" cy="312.12" r="0.85" fill="#000"/>
<circle cx="75.91" cy="310.34" r="0.85" fill="#000"/>
<circle cx="77.74" cy="308.56" r="0.85" fill="#000"/>
<circle cx="79.57" cy="306.78" r="0.85" fill="#000"/>
<circle cx="81.40" cy="305.00" r="0.85" fill="#000"/>
<circle cx="83.23" cy="303.22" r="0.85" fill="#000"/>
<circle cx="85.06" cy="301.44" r="0.85" fill="#000"/>
<circle cx="86.89" cy="299.66" r="0.85" fill="#000"/>
<circle cx="88.72" cy="297.88" r="0.85" fill="#000"/>
<circle cx="90.55" cy="296.10" r="0.85" fill="#000"/>
<circle cx="92.38" cy="294.32" r="0.85" fill="#000"/>
<circle cx="94.21" cy="292.54" r="0.85" fill="#000"/>
<circle cx="96.04" cy="290.76" r="0.85" fill="#000"/>
<circle cx="97.87" cy="288.98" r="0.85" fill="#000"/>
<circle cx="99.70" cy="287.20" r="0.85" fill="#000"/>
<circle cx="101.53" cy="285.42" r="0.85" fill="#000"/>
<circle cx="103.36" cy="283.64" r="0.85" fill="#000"/>
<circle cx="105.19" cy="281.86" r="0.85" fill="#000"/>
<circle cx="107.02" cy="280.08" r="0.85" fill="#000"/>
<circle cx="108.85" cy="278.30" r="0.85" fill="#000"/>
<circle cx="110.68" cy="276.52" r="0.85" fill="#000"/>
<circle cx="112.51" cy="274.74" r="0.85" fill="#000"/>
<circle cx="114.34" cy="272.96" r="0.85" fill="#000"/>
<circle cx="116.17" cy="271.18" r="0.85" fill="#000"/>
<circle cx="118.00" cy="269.40" r="0.85" fill="#000"/>
<circle cx="119.83" cy="267.62" r="0.85" fill="#000"/>
<circle cx="121.66" cy="265.84" r="0.85" fill="#000"/>
<circle cx="123.49" cy="264.06" r="0.85" fill="#000"/>
<circle cx="125.32" cy="262.28" r="0.85" fill="#000"/>
<circle cx="127.15" cy="260.50" r="0.85" fill="#000"/>
<circle cx="35.65" cy="351.30" r="1.15" fill="#000"/>
<circle cx="37.48" cy="349.31" r="1.15" fill="#000"/>
<circle cx="39.31" cy="347.33" r="1.15" fill="#000"/>
<circle cx="41.14" cy="345.34" r="1.15" fill="#000"/>
<circle cx="42.97" cy="343.36" r="1.15" fill="#000"/>
<circle cx="44.80" cy="341.37" r="1.15" fill="#000"/>
<circle cx="46.63" cy="339.38" r="1.15" fill="#000"/>
<circle cx="48.46" cy="337.40" r="1.15" fill="#000"/>
<circle cx="50.29" cy="335.41" r="1.15" fill="#000"/>
<circle cx="52.12" cy="333.43" r="1.15" fill="#000"/>
<circle cx="53.95" cy="331.44" r="1.15" fill="#000"/>
<circle cx="55.78" cy="329.45" r="1.15" fill="#000"/>
<circle cx="57.61" cy="327.47" r="1.15" fill="#000"/>
<circle cx="59.44" cy="325.48" r="1.15" fill="#000"/>
<circle cx="61.27" cy="323.50" r="1.15" fill="#000"/>
<circle cx="63.10" cy="321.51" r="1.15" fill="#000"/>
<circle cx="64.93" cy="319.52" r="1.15" fill="#000"/>
<circle cx="66.76" cy="317.54" r="1.15" fill="#000"/>
<circle cx="68.59" cy="315.55" r="1.15" fill="#000"/>
<circle cx="70.42" cy="313.57" r="1.15" fill="#000"/>
<circle cx="72.25" cy="311.58" r="1.15" fill="#000"/>
<circle cx="74.08" cy="309.59" r="1.15" fill="#000"/>
<circle cx="75.91" cy="307.61" r="1.15" fill="#000"/>
<circle cx="77.74" cy="305.62" r="1.15" fill="#000"/>
<circle cx="79.57" cy="303.64" r="1.15" fill="#000"/>
<circle cx="81.40" cy="301.65" r="1.15" fill="#000"/>
<circle cx="83.23" cy="299.66" r="1.15" fill="#000"/>
<circle cx="85.06" cy="297.68" r="1.15" fill="#000"/>
<circle cx="86.89" cy="295.69" r="1.15" fill="#000"/>
<circle cx="88.72" cy="293.71" r="1.15" fill="#000"/>
<circle cx="90.55" cy="291.72" r="1.15" fill="#000"/>
<circle cx="92.38" cy="289.73" r="1.15" fill="#000"/>
<circle cx="94.21" cy="287.75" r="1.15" fill="#000"/>
<circle cx="96.04" cy="285.76" r="1.15" fill="#000"/>
<circle cx="97.87" cy="283.78" r="1.15" fill="#000"/>
<circle cx="99.70" cy="281.79" r="1.15" fill="#000"/>
<circle cx="101.53" cy="279.80" r="1.15" fill="#000"/>
<circle cx="103.36" cy="277.82" r="1.15" fill="#000"/>
<circle cx="105.19" cy="275.83" r="1.15" fill="#000"/>
<circle cx="107.02" cy="273.85" r="1.15" fill="#000"/>
<circle cx="108.85" cy="271.86" r="1.15" fill="#000"/>
<circle cx="110.68" cy="269.87" r="1.15" fill="#000"/>
<circle cx="112.51" cy="267.89" r="1.15" fill="#000"/>
<circle cx="114.34" cy="265.90" r="1.15" fill="#000"/>
<circle cx="116.17" cy="263.92" r="1.15" fill="#000"/>
<circle cx="118.00" cy="261.93" r="1.15" fill="#000"/>
<circle cx="119.83" cy="259.94" r="1.15" fill="#000"/>
<circle cx="121.66" cy="257.96" r="1.15" fill="#000"/>
<circle cx="123.49" cy="255.97" r="1.15" fill="#000"/>
<circle cx="125.32" cy="253.99" r="1.15" fill="#000"/>
<circle cx="127.15" cy="252.00" r="1.15" fill="#000"/>
<circle cx="35.65" cy="355.80" r="1.55" fill="#000"/>
<circle cx="37.48" cy="353.66" r="1.55" fill="#000"/>
<circle cx="39.31" cy="351.52" r="1.55" fill="#000"/>
<circle cx="41.14" cy="349.38" r="1.55" fill="#000"/>
<circle cx="42.97" cy="347.24" r="1.55" fill="#000"/>
<circle cx="44.80" cy="345.10" r="1.55" fill="#000"/>
<circle cx="46.63" cy="342.96" r="1.55" fill="#000"/>
<circle cx="48.46" cy="340.82" r="1.55" fill="#000"/>
<circle cx="50.29" cy="338.68" r="1.55" fill="#000"/>
<circle cx="52.12" cy="336.54" r="1.55" fill="#000"/>
<circle cx="53.95" cy="334.40" r="1.55" fill="#000"/>
<circle cx="55.78" cy="332.26" r="1.55" fill="#000"/>
<circle cx="57.61" cy="330.12" r="1.55" fill="#000"/>
<circle cx="59.44" cy="327.98" r="1.55" fill="#000"/>
<circle cx="61.27" cy="325.84" r="1.55" fill="#000"/>
<circle cx="63.10" cy="323.70" r="1.55" fill="#000"/>
<circle cx="64.93" cy="321.56" r="1.55" fill="#000"/>
<circle cx="66.76" cy="319.42" r="1.55" fill="#000"/>
<circle cx="68.59" cy="317.28" r="1.55" fill="#000"/>
<circle cx="70.42" cy="315.14" r="1.55" fill="#000"/>
<circle cx="72.25" cy="313.00" r="1.55" fill="#000"/>
<circle cx="74.08" cy="310.86" r="1.55" fill="#000"/>
<circle cx="75.91" cy="308.72" r="1.55" fill="#000"/>
<circle cx="77.74" cy="306.58" r="1.55" fill="#000"/>
<circle cx="79.57" cy="304.44" r="1.55" fill="#000"/>
<circle cx="81.40" cy="302.30" r="1.55" fill="#000"/>
<circle cx="83.23" cy="300.16" r="1.55" fill="#000"/>
<circle cx="85.06" cy="298.02" r="1.55" fill="#000"/>
<circle cx="86.89" cy="295.88" r="1.55" fill="#000"/>
<circle cx="88.72" cy="293.74" r="1.55" fill="#000"/>
<circle cx="90.55" cy="291.60" r="1.55" fill="#000"/>
<circle cx="92.38" cy="289.46" r="1.55" fill="#000"/>
<circle cx="94.21" cy="287.32" r="1.55" fill="#000"/>
<circle cx="96.04" cy="285.18" r="1.55" fill="#000"/>
<circle cx="97.87" cy="283.04" r="1.55" fill="#000"/>
<circle cx="99.70" cy="280.90" r="1.55" fill="#000"/>
<circle cx="101.53" cy="278.76" r="1.55" fill="#000"/>
<circle cx="103.36" cy="276.62" r="1.55" fill="#000"/>
<circle cx="105.19" cy="274.48" r="1.55" fill="#000"/>
<circle cx="107.02" cy="272.34" r="1.55" fill="#000"/>
<circle cx="108.85" cy="270.20" r="1.55" fill="#000"/>
<circle cx="110.68" cy="268.06" r="1.55" fill="#000"/>
<circle cx="112.51" cy="265.92" r="1.55" fill="#000"/>
<circle cx="114.34" cy="263.78" r="1.55" fill="#000"/>
<circle cx="116.17" cy="261.64" r="1.55" fill="#000"/>
<circle cx="118.00" cy="259.50" r="1.55" fill="#000"/>
<circle cx="119.83" cy="257.36" r="1.55" fill="#000"/>
<circle cx="121.66" cy="255.22" r="1.55" fill="#000"/>
<circle cx="123.49" cy="253.08" r="1.55" fill="#000"/>
<circle cx="125.32" cy="250.94" r="1.55" fill="#000"/>
<circle cx="127.15" cy="248.80" r="1.55" fill="#000"/>
<line x1="52.30" y1="324.50" x2="70.70" y2="324.50" stroke="#666" stroke-width="0.9"/>
<line x1="61.50" y1="304.15" x2="61.50" y2="344.85" stroke="#666" stroke-width="0.9"/>
<rect x="38.58" y="370.30" width="4.2" height="0.95" fill="#000"/>
<text transform="translate(42.78,373.20) scale(1,1.17)" font-size="6.0" font-weight="bold" stroke="#000" stroke-width="0.22">0.2</text>
<text transform="translate(79.73,373.20) scale(1,1.17)" font-size="6.0" font-weight="bold" stroke="#000" stroke-width="0.22">0</text>
<text transform="translate(113.83,373.20) scale(1,1.17)" font-size="6.0" font-weight="bold" stroke="#000" stroke-width="0.22">0.2</text>
<rect x="9.06" y="203.00" width="4.2" height="0.95" fill="#000"/>
<text transform="translate(13.26,205.90) scale(1,1.17)" font-size="6.0" font-weight="bold" stroke="#000" stroke-width="0.22">0.2</text>
<rect x="9.06" y="243.65" width="4.2" height="0.95" fill="#000"/>
<text transform="translate(13.26,246.55) scale(1,1.17)" font-size="6.0" font-weight="bold" stroke="#000" stroke-width="0.22">0.1</text>
<text transform="translate(18.26,287.20) scale(1,1.17)" font-size="6.0" font-weight="bold" stroke="#000" stroke-width="0.22">0</text>
<text transform="translate(13.26,327.85) scale(1,1.17)" font-size="6.0" font-weight="bold" stroke="#000" stroke-width="0.22">0.1</text>
<text transform="translate(13.26,368.50) scale(1,1.17)" font-size="6.0" font-weight="bold" stroke="#000" stroke-width="0.22">0.2</text>
<text transform="translate(76.40,389.50) scale(0.5922,0.8576)" x="-0.298" y="0" font-size="10.0" font-weight="normal" fill="#000"  stroke="#000" stroke-width="0.561">Δ</text>
<text transform="translate(80.60,389.50) scale(0.9770,0.7765)" x="0.210" y="0" font-size="10.0" font-weight="normal" font-style="italic" fill="#000"  stroke="#000" stroke-width="0.459">μ</text>
<text transform="translate(7.70,307.80) rotate(-90) scale(0.8649,0.8866)" x="-0.298" y="0" font-size="10.0" font-weight="normal" fill="#000"  stroke="#000" stroke-width="0.457">ΔE(B−V)</text>
<text transform="translate(7.70,268.80) rotate(-90) scale(0.7866,0.8721)" x="-0.020" y="0" font-size="10.0" font-weight="normal" fill="#000"  stroke="#000" stroke-width="0.483">All</text>
<text transform="translate(32.50,214.10) scale(0.8242,0.9302)" x="-0.225" y="0" font-size="10.0" font-weight="normal" fill="#000"  word-spacing="2.912" stroke="#000" stroke-width="0.571">T Vel</text>
<rect x="167.50" y="203.00" width="109.80" height="162.60" fill="none" stroke="#2a2a2a" stroke-width="1.1"/>
<line x1="185.80" y1="203.00" x2="185.80" y2="206.40" stroke="#2a2a2a" stroke-width="1"/>
<line x1="185.80" y1="365.60" x2="185.80" y2="362.20" stroke="#2a2a2a" stroke-width="1"/>
<line x1="222.40" y1="203.00" x2="222.40" y2="206.40" stroke="#2a2a2a" stroke-width="1"/>
<line x1="222.40" y1="365.60" x2="222.40" y2="362.20" stroke="#2a2a2a" stroke-width="1"/>
<line x1="259.00" y1="203.00" x2="259.00" y2="206.40" stroke="#2a2a2a" stroke-width="1"/>
<line x1="259.00" y1="365.60" x2="259.00" y2="362.20" stroke="#2a2a2a" stroke-width="1"/>
<line x1="167.50" y1="311.40" x2="170.90" y2="311.40" stroke="#2a2a2a" stroke-width="1"/>
<line x1="277.30" y1="311.40" x2="273.90" y2="311.40" stroke="#2a2a2a" stroke-width="1"/>
<line x1="167.50" y1="257.20" x2="170.90" y2="257.20" stroke="#2a2a2a" stroke-width="1"/>
<line x1="277.30" y1="257.20" x2="273.90" y2="257.20" stroke="#2a2a2a" stroke-width="1"/>
<line x1="202.50" y1="365.60" x2="202.50" y2="335.25" stroke="#3a3a3a" stroke-width="1.05"/>
<line x1="220.50" y1="365.60" x2="220.50" y2="230.10" stroke="#3a3a3a" stroke-width="1.05"/>
<circle cx="176.65" cy="297.27" r="1.15" fill="#000"/>
<circle cx="178.48" cy="301.19" r="1.15" fill="#000"/>
<circle cx="180.31" cy="305.04" r="1.15" fill="#000"/>
<circle cx="182.14" cy="308.80" r="1.15" fill="#000"/>
<circle cx="183.97" cy="312.47" r="1.15" fill="#000"/>
<circle cx="185.80" cy="316.02" r="1.15" fill="#000"/>
<circle cx="187.63" cy="319.42" r="1.15" fill="#000"/>
<circle cx="189.46" cy="322.64" r="1.15" fill="#000"/>
<circle cx="191.29" cy="325.64" r="1.15" fill="#000"/>
<circle cx="193.12" cy="328.35" r="1.15" fill="#000"/>
<circle cx="194.95" cy="330.72" r="1.15" fill="#000"/>
<circle cx="196.78" cy="332.66" r="1.15" fill="#000"/>
<circle cx="198.61" cy="334.11" r="1.15" fill="#000"/>
<circle cx="200.44" cy="334.99" r="1.15" fill="#000"/>
<circle cx="202.27" cy="335.24" r="1.15" fill="#000"/>
<circle cx="204.10" cy="334.87" r="1.15" fill="#000"/>
<circle cx="205.93" cy="333.88" r="1.15" fill="#000"/>
<circle cx="207.76" cy="332.33" r="1.15" fill="#000"/>
<circle cx="209.59" cy="330.30" r="1.15" fill="#000"/>
<circle cx="211.42" cy="327.86" r="1.15" fill="#000"/>
<circle cx="213.25" cy="325.09" r="1.15" fill="#000"/>
<circle cx="215.08" cy="322.05" r="1.15" fill="#000"/>
<circle cx="216.91" cy="318.79" r="1.15" fill="#000"/>
<circle cx="218.74" cy="315.36" r="1.15" fill="#000"/>
<circle cx="220.57" cy="311.78" r="1.15" fill="#000"/>
<circle cx="222.40" cy="308.10" r="1.15" fill="#000"/>
<circle cx="224.23" cy="304.31" r="1.15" fill="#000"/>
<circle cx="226.06" cy="300.45" r="1.15" fill="#000"/>
<circle cx="227.89" cy="296.53" r="1.15" fill="#000"/>
<circle cx="229.72" cy="292.55" r="1.15" fill="#000"/>
<circle cx="231.55" cy="288.52" r="1.15" fill="#000"/>
<circle cx="233.38" cy="284.45" r="1.15" fill="#000"/>
<circle cx="235.21" cy="280.36" r="1.15" fill="#000"/>
<circle cx="237.04" cy="276.23" r="1.15" fill="#000"/>
<circle cx="238.87" cy="272.08" r="1.15" fill="#000"/>
<circle cx="240.70" cy="267.90" r="1.15" fill="#000"/>
<circle cx="242.53" cy="263.71" r="1.15" fill="#000"/>
<circle cx="244.36" cy="259.50" r="1.15" fill="#000"/>
<circle cx="246.19" cy="255.27" r="1.15" fill="#000"/>
<circle cx="248.02" cy="251.03" r="1.15" fill="#000"/>
<circle cx="249.85" cy="246.78" r="1.15" fill="#000"/>
<circle cx="251.68" cy="242.52" r="1.15" fill="#000"/>
<circle cx="253.51" cy="238.25" r="1.15" fill="#000"/>
<circle cx="255.34" cy="233.97" r="1.15" fill="#000"/>
<circle cx="257.17" cy="229.68" r="1.15" fill="#000"/>
<circle cx="259.00" cy="225.39" r="1.15" fill="#000"/>
<circle cx="260.83" cy="221.09" r="1.15" fill="#000"/>
<circle cx="262.66" cy="216.78" r="1.15" fill="#000"/>
<circle cx="264.49" cy="212.47" r="1.15" fill="#000"/>
<circle cx="266.32" cy="208.15" r="1.15" fill="#000"/>
<circle cx="268.15" cy="203.83" r="1.15" fill="#000"/>
<rect x="179.58" y="370.30" width="4.2" height="0.95" fill="#000"/>
<text transform="translate(183.78,373.20) scale(1,1.17)" font-size="6.0" font-weight="bold" stroke="#000" stroke-width="0.22">0.2</text>
<text transform="translate(220.73,373.20) scale(1,1.17)" font-size="6.0" font-weight="bold" stroke="#000" stroke-width="0.22">0</text>
<text transform="translate(254.83,373.20) scale(1,1.17)" font-size="6.0" font-weight="bold" stroke="#000" stroke-width="0.22">0.2</text>
<text transform="translate(159.26,368.50) scale(1,1.17)" font-size="6.0" font-weight="bold" stroke="#000" stroke-width="0.22">0</text>
<text transform="translate(150.92,314.30) scale(1,1.17)" font-size="6.0" font-weight="bold" stroke="#000" stroke-width="0.22">0.01</text>
<text transform="translate(150.92,260.10) scale(1,1.17)" font-size="6.0" font-weight="bold" stroke="#000" stroke-width="0.22">0.02</text>
<text transform="translate(217.40,389.50) scale(0.5922,0.8576)" x="-0.298" y="0" font-size="10.0" font-weight="normal" fill="#000"  stroke="#000" stroke-width="0.561">Δ</text>
<text transform="translate(221.60,389.50) scale(0.9770,0.7765)" x="0.210" y="0" font-size="10.0" font-weight="normal" font-style="italic" fill="#000"  stroke="#000" stroke-width="0.459">μ</text>
<text transform="translate(148.40,292.20) rotate(-90) scale(0.7545,0.8576)" x="-0.820" y="0" font-size="10.0" font-weight="normal" fill="#000"  stroke="#000" stroke-width="0.497">RMS</text>
<text transform="translate(173.50,214.10) scale(0.8242,0.9302)" x="-0.225" y="0" font-size="10.0" font-weight="normal" fill="#000"  word-spacing="2.912" stroke="#000" stroke-width="0.571">T Vel</text>
<rect x="311.00" y="203.00" width="109.50" height="162.60" fill="none" stroke="#2a2a2a" stroke-width="1.1"/>
<line x1="329.25" y1="203.00" x2="329.25" y2="206.40" stroke="#2a2a2a" stroke-width="1"/>
<line x1="329.25" y1="365.60" x2="329.25" y2="362.20" stroke="#2a2a2a" stroke-width="1"/>
<line x1="365.75" y1="203.00" x2="365.75" y2="206.40" stroke="#2a2a2a" stroke-width="1"/>
<line x1="365.75" y1="365.60" x2="365.75" y2="362.20" stroke="#2a2a2a" stroke-width="1"/>
<line x1="402.25" y1="203.00" x2="402.25" y2="206.40" stroke="#2a2a2a" stroke-width="1"/>
<line x1="402.25" y1="365.60" x2="402.25" y2="362.20" stroke="#2a2a2a" stroke-width="1"/>
<line x1="311.00" y1="243.65" x2="314.40" y2="243.65" stroke="#2a2a2a" stroke-width="1"/>
<line x1="420.50" y1="243.65" x2="417.10" y2="243.65" stroke="#2a2a2a" stroke-width="1"/>
<line x1="311.00" y1="324.95" x2="314.40" y2="324.95" stroke="#2a2a2a" stroke-width="1"/>
<line x1="420.50" y1="324.95" x2="417.10" y2="324.95" stroke="#2a2a2a" stroke-width="1"/>
<line x1="365.75" y1="203.00" x2="365.75" y2="365.60" stroke="#383838" stroke-width="1.05"/>
<line x1="311.00" y1="284.50" x2="420.50" y2="284.50" stroke="#383838" stroke-width="1.05"/>
<circle cx="320.12" cy="241.10" r="0.52" fill="#b0b0b0"/>
<circle cx="321.95" cy="240.63" r="0.52" fill="#b0b0b0"/>
<circle cx="323.77" cy="240.16" r="0.52" fill="#b0b0b0"/>
<circle cx="325.60" cy="239.69" r="0.52" fill="#b0b0b0"/>
<circle cx="327.43" cy="239.22" r="0.52" fill="#b0b0b0"/>
<circle cx="329.25" cy="238.75" r="0.52" fill="#b0b0b0"/>
<circle cx="331.07" cy="238.28" r="0.52" fill="#b0b0b0"/>
<circle cx="332.90" cy="237.81" r="0.52" fill="#b0b0b0"/>
<circle cx="334.73" cy="237.34" r="0.52" fill="#b0b0b0"/>
<circle cx="336.55" cy="236.87" r="0.52" fill="#b0b0b0"/>
<circle cx="338.38" cy="236.40" r="0.52" fill="#b0b0b0"/>
<circle cx="340.20" cy="235.93" r="0.52" fill="#b0b0b0"/>
<circle cx="342.02" cy="235.46" r="0.52" fill="#b0b0b0"/>
<circle cx="343.85" cy="234.99" r="0.52" fill="#b0b0b0"/>
<circle cx="345.68" cy="234.52" r="0.52" fill="#b0b0b0"/>
<circle cx="347.50" cy="234.05" r="0.52" fill="#b0b0b0"/>
<circle cx="349.32" cy="233.58" r="0.52" fill="#b0b0b0"/>
<circle cx="351.15" cy="233.11" r="0.52" fill="#b0b0b0"/>
<circle cx="352.98" cy="232.64" r="0.52" fill="#b0b0b0"/>
<circle cx="354.80" cy="232.17" r="0.52" fill="#b0b0b0"/>
<circle cx="356.62" cy="231.70" r="0.52" fill="#b0b0b0"/>
<circle cx="358.45" cy="231.23" r="0.52" fill="#b0b0b0"/>
<circle cx="360.27" cy="230.76" r="0.52" fill="#b0b0b0"/>
<circle cx="362.10" cy="230.29" r="0.52" fill="#b0b0b0"/>
<circle cx="363.93" cy="229.82" r="0.52" fill="#b0b0b0"/>
<circle cx="365.75" cy="229.35" r="0.52" fill="#b0b0b0"/>
<circle cx="367.57" cy="228.88" r="0.52" fill="#b0b0b0"/>
<circle cx="369.40" cy="228.41" r="0.52" fill="#b0b0b0"/>
<circle cx="371.23" cy="227.94" r="0.52" fill="#b0b0b0"/>
<circle cx="373.05" cy="227.47" r="0.52" fill="#b0b0b0"/>
<circle cx="374.88" cy="227.00" r="0.52" fill="#b0b0b0"/>
<circle cx="376.70" cy="226.53" r="0.52" fill="#b0b0b0"/>
<circle cx="378.52" cy="226.06" r="0.52" fill="#b0b0b0"/>
<circle cx="380.35" cy="225.59" r="0.52" fill="#b0b0b0"/>
<circle cx="382.18" cy="225.12" r="0.52" fill="#b0b0b0"/>
<circle cx="384.00" cy="224.65" r="0.52" fill="#b0b0b0"/>
<circle cx="385.82" cy="224.18" r="0.52" fill="#b0b0b0"/>
<circle cx="387.65" cy="223.71" r="0.52" fill="#b0b0b0"/>
<circle cx="389.48" cy="223.24" r="0.52" fill="#b0b0b0"/>
<circle cx="391.30" cy="222.77" r="0.52" fill="#b0b0b0"/>
<circle cx="393.12" cy="222.30" r="0.52" fill="#b0b0b0"/>
<circle cx="394.95" cy="221.83" r="0.52" fill="#b0b0b0"/>
<circle cx="396.77" cy="221.36" r="0.52" fill="#b0b0b0"/>
<circle cx="398.60" cy="220.89" r="0.52" fill="#b0b0b0"/>
<circle cx="400.43" cy="220.42" r="0.52" fill="#b0b0b0"/>
<circle cx="402.25" cy="219.95" r="0.52" fill="#b0b0b0"/>
<circle cx="404.07" cy="219.48" r="0.52" fill="#b0b0b0"/>
<circle cx="405.90" cy="219.01" r="0.52" fill="#b0b0b0"/>
<circle cx="407.73" cy="218.54" r="0.52" fill="#b0b0b0"/>
<circle cx="409.55" cy="218.07" r="0.52" fill="#b0b0b0"/>
<circle cx="411.38" cy="217.60" r="0.52" fill="#b0b0b0"/>
<circle cx="320.12" cy="255.60" r="0.6" fill="#777"/>
<circle cx="321.95" cy="254.81" r="0.6" fill="#777"/>
<circle cx="323.77" cy="254.02" r="0.6" fill="#777"/>
<circle cx="325.60" cy="253.22" r="0.6" fill="#777"/>
<circle cx="327.43" cy="252.43" r="0.6" fill="#777"/>
<circle cx="329.25" cy="251.64" r="0.6" fill="#777"/>
<circle cx="331.07" cy="250.85" r="0.6" fill="#777"/>
<circle cx="332.90" cy="250.06" r="0.6" fill="#777"/>
<circle cx="334.73" cy="249.26" r="0.6" fill="#777"/>
<circle cx="336.55" cy="248.47" r="0.6" fill="#777"/>
<circle cx="338.38" cy="247.68" r="0.6" fill="#777"/>
<circle cx="340.20" cy="246.89" r="0.6" fill="#777"/>
<circle cx="342.02" cy="246.10" r="0.6" fill="#777"/>
<circle cx="343.85" cy="245.30" r="0.6" fill="#777"/>
<circle cx="345.68" cy="244.51" r="0.6" fill="#777"/>
<circle cx="347.50" cy="243.72" r="0.6" fill="#777"/>
<circle cx="349.32" cy="242.93" r="0.6" fill="#777"/>
<circle cx="351.15" cy="242.14" r="0.6" fill="#777"/>
<circle cx="352.98" cy="241.34" r="0.6" fill="#777"/>
<circle cx="354.80" cy="240.55" r="0.6" fill="#777"/>
<circle cx="356.62" cy="239.76" r="0.6" fill="#777"/>
<circle cx="358.45" cy="238.97" r="0.6" fill="#777"/>
<circle cx="360.27" cy="238.18" r="0.6" fill="#777"/>
<circle cx="362.10" cy="237.38" r="0.6" fill="#777"/>
<circle cx="363.93" cy="236.59" r="0.6" fill="#777"/>
<circle cx="365.75" cy="235.80" r="0.6" fill="#777"/>
<circle cx="367.57" cy="235.01" r="0.6" fill="#777"/>
<circle cx="369.40" cy="234.22" r="0.6" fill="#777"/>
<circle cx="371.23" cy="233.42" r="0.6" fill="#777"/>
<circle cx="373.05" cy="232.63" r="0.6" fill="#777"/>
<circle cx="374.88" cy="231.84" r="0.6" fill="#777"/>
<circle cx="376.70" cy="231.05" r="0.6" fill="#777"/>
<circle cx="378.52" cy="230.26" r="0.6" fill="#777"/>
<circle cx="380.35" cy="229.46" r="0.6" fill="#777"/>
<circle cx="382.18" cy="228.67" r="0.6" fill="#777"/>
<circle cx="384.00" cy="227.88" r="0.6" fill="#777"/>
<circle cx="385.82" cy="227.09" r="0.6" fill="#777"/>
<circle cx="387.65" cy="226.30" r="0.6" fill="#777"/>
<circle cx="389.48" cy="225.50" r="0.6" fill="#777"/>
<circle cx="391.30" cy="224.71" r="0.6" fill="#777"/>
<circle cx="393.12" cy="223.92" r="0.6" fill="#777"/>
<circle cx="394.95" cy="223.13" r="0.6" fill="#777"/>
<circle cx="396.77" cy="222.34" r="0.6" fill="#777"/>
<circle cx="398.60" cy="221.54" r="0.6" fill="#777"/>
<circle cx="400.43" cy="220.75" r="0.6" fill="#777"/>
<circle cx="402.25" cy="219.96" r="0.6" fill="#777"/>
<circle cx="404.07" cy="219.17" r="0.6" fill="#777"/>
<circle cx="405.90" cy="218.38" r="0.6" fill="#777"/>
<circle cx="407.73" cy="217.58" r="0.6" fill="#777"/>
<circle cx="409.55" cy="216.79" r="0.6" fill="#777"/>
<circle cx="411.38" cy="216.00" r="0.6" fill="#777"/>
<circle cx="320.12" cy="290.20" r="0.7" fill="#333"/>
<circle cx="321.95" cy="288.90" r="0.7" fill="#333"/>
<circle cx="323.77" cy="287.61" r="0.7" fill="#333"/>
<circle cx="325.60" cy="286.31" r="0.7" fill="#333"/>
<circle cx="327.43" cy="285.02" r="0.7" fill="#333"/>
<circle cx="329.25" cy="283.72" r="0.7" fill="#333"/>
<circle cx="331.07" cy="282.42" r="0.7" fill="#333"/>
<circle cx="332.90" cy="281.13" r="0.7" fill="#333"/>
<circle cx="334.73" cy="279.83" r="0.7" fill="#333"/>
<circle cx="336.55" cy="278.54" r="0.7" fill="#333"/>
<circle cx="338.38" cy="277.24" r="0.7" fill="#333"/>
<circle cx="340.20" cy="275.94" r="0.7" fill="#333"/>
<circle cx="342.02" cy="274.65" r="0.7" fill="#333"/>
<circle cx="343.85" cy="273.35" r="0.7" fill="#333"/>
<circle cx="345.68" cy="272.06" r="0.7" fill="#333"/>
<circle cx="347.50" cy="270.76" r="0.7" fill="#333"/>
<circle cx="349.32" cy="269.46" r="0.7" fill="#333"/>
<circle cx="351.15" cy="268.17" r="0.7" fill="#333"/>
<circle cx="352.98" cy="266.87" r="0.7" fill="#333"/>
<circle cx="354.80" cy="265.58" r="0.7" fill="#333"/>
<circle cx="356.62" cy="264.28" r="0.7" fill="#333"/>
<circle cx="358.45" cy="262.98" r="0.7" fill="#333"/>
<circle cx="360.27" cy="261.69" r="0.7" fill="#333"/>
<circle cx="362.10" cy="260.39" r="0.7" fill="#333"/>
<circle cx="363.93" cy="259.10" r="0.7" fill="#333"/>
<circle cx="365.75" cy="257.80" r="0.7" fill="#333"/>
<circle cx="367.57" cy="256.50" r="0.7" fill="#333"/>
<circle cx="369.40" cy="255.21" r="0.7" fill="#333"/>
<circle cx="371.23" cy="253.91" r="0.7" fill="#333"/>
<circle cx="373.05" cy="252.62" r="0.7" fill="#333"/>
<circle cx="374.88" cy="251.32" r="0.7" fill="#333"/>
<circle cx="376.70" cy="250.02" r="0.7" fill="#333"/>
<circle cx="378.52" cy="248.73" r="0.7" fill="#333"/>
<circle cx="380.35" cy="247.43" r="0.7" fill="#333"/>
<circle cx="382.18" cy="246.14" r="0.7" fill="#333"/>
<circle cx="384.00" cy="244.84" r="0.7" fill="#333"/>
<circle cx="385.82" cy="243.54" r="0.7" fill="#333"/>
<circle cx="387.65" cy="242.25" r="0.7" fill="#333"/>
<circle cx="389.48" cy="240.95" r="0.7" fill="#333"/>
<circle cx="391.30" cy="239.66" r="0.7" fill="#333"/>
<circle cx="393.12" cy="238.36" r="0.7" fill="#333"/>
<circle cx="394.95" cy="237.06" r="0.7" fill="#333"/>
<circle cx="396.77" cy="235.77" r="0.7" fill="#333"/>
<circle cx="398.60" cy="234.47" r="0.7" fill="#333"/>
<circle cx="400.43" cy="233.18" r="0.7" fill="#333"/>
<circle cx="402.25" cy="231.88" r="0.7" fill="#333"/>
<circle cx="404.07" cy="230.58" r="0.7" fill="#333"/>
<circle cx="405.90" cy="229.29" r="0.7" fill="#333"/>
<circle cx="407.73" cy="227.99" r="0.7" fill="#333"/>
<circle cx="409.55" cy="226.70" r="0.7" fill="#333"/>
<circle cx="411.38" cy="225.40" r="0.7" fill="#333"/>
<circle cx="335.64" cy="279.18" r="1.7" fill="#fff" stroke="#999" stroke-width="0.55"/>
<circle cx="335.64" cy="248.87" r="1.7" fill="#fff" stroke="#999" stroke-width="0.55"/>
<circle cx="335.64" cy="237.10" r="1.7" fill="#fff" stroke="#999" stroke-width="0.55"/>
<circle cx="320.12" cy="312.60" r="0.9" fill="#000"/>
<circle cx="321.95" cy="310.83" r="0.9" fill="#000"/>
<circle cx="323.77" cy="309.06" r="0.9" fill="#000"/>
<circle cx="325.60" cy="307.30" r="0.9" fill="#000"/>
<circle cx="327.43" cy="305.53" r="0.9" fill="#000"/>
<circle cx="329.25" cy="303.76" r="0.9" fill="#000"/>
<circle cx="331.07" cy="301.99" r="0.9" fill="#000"/>
<circle cx="332.90" cy="300.22" r="0.9" fill="#000"/>
<circle cx="334.73" cy="298.46" r="0.9" fill="#000"/>
<circle cx="336.55" cy="296.69" r="0.9" fill="#000"/>
<circle cx="338.38" cy="294.92" r="0.9" fill="#000"/>
<circle cx="340.20" cy="293.15" r="0.9" fill="#000"/>
<circle cx="342.02" cy="291.38" r="0.9" fill="#000"/>
<circle cx="343.85" cy="289.62" r="0.9" fill="#000"/>
<circle cx="345.68" cy="287.85" r="0.9" fill="#000"/>
<circle cx="347.50" cy="286.08" r="0.9" fill="#000"/>
<circle cx="349.32" cy="284.31" r="0.9" fill="#000"/>
<circle cx="351.15" cy="282.54" r="0.9" fill="#000"/>
<circle cx="352.98" cy="280.78" r="0.9" fill="#000"/>
<circle cx="354.80" cy="279.01" r="0.9" fill="#000"/>
<circle cx="356.62" cy="277.24" r="0.9" fill="#000"/>
<circle cx="358.45" cy="275.47" r="0.9" fill="#000"/>
<circle cx="360.27" cy="273.70" r="0.9" fill="#000"/>
<circle cx="362.10" cy="271.94" r="0.9" fill="#000"/>
<circle cx="363.93" cy="270.17" r="0.9" fill="#000"/>
<circle cx="365.75" cy="268.40" r="0.9" fill="#000"/>
<circle cx="367.57" cy="266.63" r="0.9" fill="#000"/>
<circle cx="369.40" cy="264.86" r="0.9" fill="#000"/>
<circle cx="371.23" cy="263.10" r="0.9" fill="#000"/>
<circle cx="373.05" cy="261.33" r="0.9" fill="#000"/>
<circle cx="374.88" cy="259.56" r="0.9" fill="#000"/>
<circle cx="376.70" cy="257.79" r="0.9" fill="#000"/>
<circle cx="378.52" cy="256.02" r="0.9" fill="#000"/>
<circle cx="380.35" cy="254.26" r="0.9" fill="#000"/>
<circle cx="382.18" cy="252.49" r="0.9" fill="#000"/>
<circle cx="384.00" cy="250.72" r="0.9" fill="#000"/>
<circle cx="385.82" cy="248.95" r="0.9" fill="#000"/>
<circle cx="387.65" cy="247.18" r="0.9" fill="#000"/>
<circle cx="389.48" cy="245.42" r="0.9" fill="#000"/>
<circle cx="391.30" cy="243.65" r="0.9" fill="#000"/>
<circle cx="393.12" cy="241.88" r="0.9" fill="#000"/>
<circle cx="394.95" cy="240.11" r="0.9" fill="#000"/>
<circle cx="396.77" cy="238.34" r="0.9" fill="#000"/>
<circle cx="398.60" cy="236.58" r="0.9" fill="#000"/>
<circle cx="400.43" cy="234.81" r="0.9" fill="#000"/>
<circle cx="402.25" cy="233.04" r="0.9" fill="#000"/>
<circle cx="404.07" cy="231.27" r="0.9" fill="#000"/>
<circle cx="405.90" cy="229.50" r="0.9" fill="#000"/>
<circle cx="407.73" cy="227.74" r="0.9" fill="#000"/>
<circle cx="409.55" cy="225.97" r="0.9" fill="#000"/>
<circle cx="411.38" cy="224.20" r="0.9" fill="#000"/>
<circle cx="320.12" cy="312.00" r="0.85" fill="#000"/>
<circle cx="321.95" cy="310.29" r="0.85" fill="#000"/>
<circle cx="323.77" cy="308.58" r="0.85" fill="#000"/>
<circle cx="325.60" cy="306.87" r="0.85" fill="#000"/>
<circle cx="327.43" cy="305.16" r="0.85" fill="#000"/>
<circle cx="329.25" cy="303.45" r="0.85" fill="#000"/>
<circle cx="331.07" cy="301.74" r="0.85" fill="#000"/>
<circle cx="332.90" cy="300.03" r="0.85" fill="#000"/>
<circle cx="334.73" cy="298.32" r="0.85" fill="#000"/>
<circle cx="336.55" cy="296.61" r="0.85" fill="#000"/>
<circle cx="338.38" cy="294.90" r="0.85" fill="#000"/>
<circle cx="340.20" cy="293.19" r="0.85" fill="#000"/>
<circle cx="342.02" cy="291.48" r="0.85" fill="#000"/>
<circle cx="343.85" cy="289.77" r="0.85" fill="#000"/>
<circle cx="345.68" cy="288.06" r="0.85" fill="#000"/>
<circle cx="347.50" cy="286.35" r="0.85" fill="#000"/>
<circle cx="349.32" cy="284.64" r="0.85" fill="#000"/>
<circle cx="351.15" cy="282.93" r="0.85" fill="#000"/>
<circle cx="352.98" cy="281.22" r="0.85" fill="#000"/>
<circle cx="354.80" cy="279.51" r="0.85" fill="#000"/>
<circle cx="356.62" cy="277.80" r="0.85" fill="#000"/>
<circle cx="358.45" cy="276.09" r="0.85" fill="#000"/>
<circle cx="360.27" cy="274.38" r="0.85" fill="#000"/>
<circle cx="362.10" cy="272.67" r="0.85" fill="#000"/>
<circle cx="363.93" cy="270.96" r="0.85" fill="#000"/>
<circle cx="365.75" cy="269.25" r="0.85" fill="#000"/>
<circle cx="367.57" cy="267.54" r="0.85" fill="#000"/>
<circle cx="369.40" cy="265.83" r="0.85" fill="#000"/>
<circle cx="371.23" cy="264.12" r="0.85" fill="#000"/>
<circle cx="373.05" cy="262.41" r="0.85" fill="#000"/>
<circle cx="374.88" cy="260.70" r="0.85" fill="#000"/>
<circle cx="376.70" cy="258.99" r="0.85" fill="#000"/>
<circle cx="378.52" cy="257.28" r="0.85" fill="#000"/>
<circle cx="380.35" cy="255.57" r="0.85" fill="#000"/>
<circle cx="382.18" cy="253.86" r="0.85" fill="#000"/>
<circle cx="384.00" cy="252.15" r="0.85" fill="#000"/>
<circle cx="385.82" cy="250.44" r="0.85" fill="#000"/>
<circle cx="387.65" cy="248.73" r="0.85" fill="#000"/>
<circle cx="389.48" cy="247.02" r="0.85" fill="#000"/>
<circle cx="391.30" cy="245.31" r="0.85" fill="#000"/>
<circle cx="393.12" cy="243.60" r="0.85" fill="#000"/>
<circle cx="394.95" cy="241.89" r="0.85" fill="#000"/>
<circle cx="396.77" cy="240.18" r="0.85" fill="#000"/>
<circle cx="398.60" cy="238.47" r="0.85" fill="#000"/>
<circle cx="400.43" cy="236.76" r="0.85" fill="#000"/>
<circle cx="402.25" cy="235.05" r="0.85" fill="#000"/>
<circle cx="404.07" cy="233.34" r="0.85" fill="#000"/>
<circle cx="405.90" cy="231.63" r="0.85" fill="#000"/>
<circle cx="407.73" cy="229.92" r="0.85" fill="#000"/>
<circle cx="409.55" cy="228.21" r="0.85" fill="#000"/>
<circle cx="411.38" cy="226.50" r="0.85" fill="#000"/>
<circle cx="320.12" cy="321.30" r="1.15" fill="#000"/>
<circle cx="321.95" cy="319.31" r="1.15" fill="#000"/>
<circle cx="323.77" cy="317.33" r="1.15" fill="#000"/>
<circle cx="325.60" cy="315.34" r="1.15" fill="#000"/>
<circle cx="327.43" cy="313.36" r="1.15" fill="#000"/>
<circle cx="329.25" cy="311.37" r="1.15" fill="#000"/>
<circle cx="331.07" cy="309.38" r="1.15" fill="#000"/>
<circle cx="332.90" cy="307.40" r="1.15" fill="#000"/>
<circle cx="334.73" cy="305.41" r="1.15" fill="#000"/>
<circle cx="336.55" cy="303.43" r="1.15" fill="#000"/>
<circle cx="338.38" cy="301.44" r="1.15" fill="#000"/>
<circle cx="340.20" cy="299.45" r="1.15" fill="#000"/>
<circle cx="342.02" cy="297.47" r="1.15" fill="#000"/>
<circle cx="343.85" cy="295.48" r="1.15" fill="#000"/>
<circle cx="345.68" cy="293.50" r="1.15" fill="#000"/>
<circle cx="347.50" cy="291.51" r="1.15" fill="#000"/>
<circle cx="349.32" cy="289.52" r="1.15" fill="#000"/>
<circle cx="351.15" cy="287.54" r="1.15" fill="#000"/>
<circle cx="352.98" cy="285.55" r="1.15" fill="#000"/>
<circle cx="354.80" cy="283.57" r="1.15" fill="#000"/>
<circle cx="356.62" cy="281.58" r="1.15" fill="#000"/>
<circle cx="358.45" cy="279.59" r="1.15" fill="#000"/>
<circle cx="360.27" cy="277.61" r="1.15" fill="#000"/>
<circle cx="362.10" cy="275.62" r="1.15" fill="#000"/>
<circle cx="363.93" cy="273.64" r="1.15" fill="#000"/>
<circle cx="365.75" cy="271.65" r="1.15" fill="#000"/>
<circle cx="367.57" cy="269.66" r="1.15" fill="#000"/>
<circle cx="369.40" cy="267.68" r="1.15" fill="#000"/>
<circle cx="371.23" cy="265.69" r="1.15" fill="#000"/>
<circle cx="373.05" cy="263.71" r="1.15" fill="#000"/>
<circle cx="374.88" cy="261.72" r="1.15" fill="#000"/>
<circle cx="376.70" cy="259.73" r="1.15" fill="#000"/>
<circle cx="378.52" cy="257.75" r="1.15" fill="#000"/>
<circle cx="380.35" cy="255.76" r="1.15" fill="#000"/>
<circle cx="382.18" cy="253.78" r="1.15" fill="#000"/>
<circle cx="384.00" cy="251.79" r="1.15" fill="#000"/>
<circle cx="385.82" cy="249.80" r="1.15" fill="#000"/>
<circle cx="387.65" cy="247.82" r="1.15" fill="#000"/>
<circle cx="389.48" cy="245.83" r="1.15" fill="#000"/>
<circle cx="391.30" cy="243.85" r="1.15" fill="#000"/>
<circle cx="393.12" cy="241.86" r="1.15" fill="#000"/>
<circle cx="394.95" cy="239.87" r="1.15" fill="#000"/>
<circle cx="396.77" cy="237.89" r="1.15" fill="#000"/>
<circle cx="398.60" cy="235.90" r="1.15" fill="#000"/>
<circle cx="400.43" cy="233.92" r="1.15" fill="#000"/>
<circle cx="402.25" cy="231.93" r="1.15" fill="#000"/>
<circle cx="404.07" cy="229.94" r="1.15" fill="#000"/>
<circle cx="405.90" cy="227.96" r="1.15" fill="#000"/>
<circle cx="407.73" cy="225.97" r="1.15" fill="#000"/>
<circle cx="409.55" cy="223.99" r="1.15" fill="#000"/>
<circle cx="411.38" cy="222.00" r="1.15" fill="#000"/>
<circle cx="320.12" cy="323.80" r="1.55" fill="#000"/>
<circle cx="321.95" cy="321.66" r="1.55" fill="#000"/>
<circle cx="323.77" cy="319.52" r="1.55" fill="#000"/>
<circle cx="325.60" cy="317.38" r="1.55" fill="#000"/>
<circle cx="327.43" cy="315.24" r="1.55" fill="#000"/>
<circle cx="329.25" cy="313.10" r="1.55" fill="#000"/>
<circle cx="331.07" cy="310.96" r="1.55" fill="#000"/>
<circle cx="332.90" cy="308.82" r="1.55" fill="#000"/>
<circle cx="334.73" cy="306.68" r="1.55" fill="#000"/>
<circle cx="336.55" cy="304.54" r="1.55" fill="#000"/>
<circle cx="338.38" cy="302.40" r="1.55" fill="#000"/>
<circle cx="340.20" cy="300.26" r="1.55" fill="#000"/>
<circle cx="342.02" cy="298.12" r="1.55" fill="#000"/>
<circle cx="343.85" cy="295.98" r="1.55" fill="#000"/>
<circle cx="345.68" cy="293.84" r="1.55" fill="#000"/>
<circle cx="347.50" cy="291.70" r="1.55" fill="#000"/>
<circle cx="349.32" cy="289.56" r="1.55" fill="#000"/>
<circle cx="351.15" cy="287.42" r="1.55" fill="#000"/>
<circle cx="352.98" cy="285.28" r="1.55" fill="#000"/>
<circle cx="354.80" cy="283.14" r="1.55" fill="#000"/>
<circle cx="356.62" cy="281.00" r="1.55" fill="#000"/>
<circle cx="358.45" cy="278.86" r="1.55" fill="#000"/>
<circle cx="360.27" cy="276.72" r="1.55" fill="#000"/>
<circle cx="362.10" cy="274.58" r="1.55" fill="#000"/>
<circle cx="363.93" cy="272.44" r="1.55" fill="#000"/>
<circle cx="365.75" cy="270.30" r="1.55" fill="#000"/>
<circle cx="367.57" cy="268.16" r="1.55" fill="#000"/>
<circle cx="369.40" cy="266.02" r="1.55" fill="#000"/>
<circle cx="371.23" cy="263.88" r="1.55" fill="#000"/>
<circle cx="373.05" cy="261.74" r="1.55" fill="#000"/>
<circle cx="374.88" cy="259.60" r="1.55" fill="#000"/>
<circle cx="376.70" cy="257.46" r="1.55" fill="#000"/>
<circle cx="378.52" cy="255.32" r="1.55" fill="#000"/>
<circle cx="380.35" cy="253.18" r="1.55" fill="#000"/>
<circle cx="382.18" cy="251.04" r="1.55" fill="#000"/>
<circle cx="384.00" cy="248.90" r="1.55" fill="#000"/>
<circle cx="385.82" cy="246.76" r="1.55" fill="#000"/>
<circle cx="387.65" cy="244.62" r="1.55" fill="#000"/>
<circle cx="389.48" cy="242.48" r="1.55" fill="#000"/>
<circle cx="391.30" cy="240.34" r="1.55" fill="#000"/>
<circle cx="393.12" cy="238.20" r="1.55" fill="#000"/>
<circle cx="394.95" cy="236.06" r="1.55" fill="#000"/>
<circle cx="396.77" cy="233.92" r="1.55" fill="#000"/>
<circle cx="398.60" cy="231.78" r="1.55" fill="#000"/>
<circle cx="400.43" cy="229.64" r="1.55" fill="#000"/>
<circle cx="402.25" cy="227.50" r="1.55" fill="#000"/>
<circle cx="404.07" cy="225.36" r="1.55" fill="#000"/>
<circle cx="405.90" cy="223.22" r="1.55" fill="#000"/>
<circle cx="407.73" cy="221.08" r="1.55" fill="#000"/>
<circle cx="409.55" cy="218.94" r="1.55" fill="#000"/>
<circle cx="411.38" cy="216.80" r="1.55" fill="#000"/>
<line x1="369.30" y1="256.50" x2="387.70" y2="256.50" stroke="#666" stroke-width="0.9"/>
<line x1="378.50" y1="236.15" x2="378.50" y2="276.85" stroke="#666" stroke-width="0.9"/>
<rect x="323.03" y="370.30" width="4.2" height="0.95" fill="#000"/>
<text transform="translate(327.23,373.20) scale(1,1.17)" font-size="6.0" font-weight="bold" stroke="#000" stroke-width="0.22">0.2</text>
<text transform="translate(364.08,373.20) scale(1,1.17)" font-size="6.0" font-weight="bold" stroke="#000" stroke-width="0.22">0</text>
<text transform="translate(398.08,373.20) scale(1,1.17)" font-size="6.0" font-weight="bold" stroke="#000" stroke-width="0.22">0.2</text>
<rect x="293.56" y="203.00" width="4.2" height="0.95" fill="#000"/>
<text transform="translate(297.76,205.90) scale(1,1.17)" font-size="6.0" font-weight="bold" stroke="#000" stroke-width="0.22">0.2</text>
<rect x="293.56" y="243.65" width="4.2" height="0.95" fill="#000"/>
<text transform="translate(297.76,246.55) scale(1,1.17)" font-size="6.0" font-weight="bold" stroke="#000" stroke-width="0.22">0.1</text>
<text transform="translate(302.76,287.20) scale(1,1.17)" font-size="6.0" font-weight="bold" stroke="#000" stroke-width="0.22">0</text>
<text transform="translate(297.76,327.85) scale(1,1.17)" font-size="6.0" font-weight="bold" stroke="#000" stroke-width="0.22">0.1</text>
<text transform="translate(297.76,368.50) scale(1,1.17)" font-size="6.0" font-weight="bold" stroke="#000" stroke-width="0.22">0.2</text>
<text transform="translate(360.75,389.50) scale(0.5922,0.8576)" x="-0.298" y="0" font-size="10.0" font-weight="normal" fill="#000"  stroke="#000" stroke-width="0.561">Δ</text>
<text transform="translate(364.95,389.50) scale(0.9770,0.7765)" x="0.210" y="0" font-size="10.0" font-weight="normal" font-style="italic" fill="#000"  stroke="#000" stroke-width="0.459">μ</text>
<text transform="translate(292.10,307.80) rotate(-90) scale(0.8649,0.8866)" x="-0.298" y="0" font-size="10.0" font-weight="normal" fill="#000"  stroke="#000" stroke-width="0.457">ΔE(B−V)</text>
<text transform="translate(292.10,268.80) rotate(-90) scale(0.7866,0.8721)" x="-0.020" y="0" font-size="10.0" font-weight="normal" fill="#000"  stroke="#000" stroke-width="0.483">All</text>
<text transform="translate(317.00,214.10) scale(0.8452,0.9302)" x="-0.044" y="0" font-size="10.0" font-weight="normal" fill="#000"  word-spacing="2.366" stroke="#000" stroke-width="0.564">W Sgr</text>
<rect x="452.00" y="203.00" width="109.50" height="162.60" fill="none" stroke="#2a2a2a" stroke-width="1.1"/>
<line x1="470.25" y1="203.00" x2="470.25" y2="206.40" stroke="#2a2a2a" stroke-width="1"/>
<line x1="470.25" y1="365.60" x2="470.25" y2="362.20" stroke="#2a2a2a" stroke-width="1"/>
<line x1="506.75" y1="203.00" x2="506.75" y2="206.40" stroke="#2a2a2a" stroke-width="1"/>
<line x1="506.75" y1="365.60" x2="506.75" y2="362.20" stroke="#2a2a2a" stroke-width="1"/>
<line x1="543.25" y1="203.00" x2="543.25" y2="206.40" stroke="#2a2a2a" stroke-width="1"/>
<line x1="543.25" y1="365.60" x2="543.25" y2="362.20" stroke="#2a2a2a" stroke-width="1"/>
<line x1="452.00" y1="311.40" x2="455.40" y2="311.40" stroke="#2a2a2a" stroke-width="1"/>
<line x1="561.50" y1="311.40" x2="558.10" y2="311.40" stroke="#2a2a2a" stroke-width="1"/>
<line x1="452.00" y1="257.20" x2="455.40" y2="257.20" stroke="#2a2a2a" stroke-width="1"/>
<line x1="561.50" y1="257.20" x2="558.10" y2="257.20" stroke="#2a2a2a" stroke-width="1"/>
<line x1="519.50" y1="365.60" x2="519.50" y2="332.19" stroke="#3a3a3a" stroke-width="1.05"/>
<line x1="476.50" y1="365.60" x2="476.50" y2="230.10" stroke="#3a3a3a" stroke-width="1.05"/>
<circle cx="461.12" cy="220.47" r="1.15" fill="#000"/>
<circle cx="462.95" cy="224.76" r="1.15" fill="#000"/>
<circle cx="464.77" cy="229.05" r="1.15" fill="#000"/>
<circle cx="466.60" cy="233.33" r="1.15" fill="#000"/>
<circle cx="468.43" cy="237.60" r="1.15" fill="#000"/>
<circle cx="470.25" cy="241.85" r="1.15" fill="#000"/>
<circle cx="472.07" cy="246.10" r="1.15" fill="#000"/>
<circle cx="473.90" cy="250.33" r="1.15" fill="#000"/>
<circle cx="475.73" cy="254.55" r="1.15" fill="#000"/>
<circle cx="477.55" cy="258.76" r="1.15" fill="#000"/>
<circle cx="479.38" cy="262.94" r="1.15" fill="#000"/>
<circle cx="481.20" cy="267.11" r="1.15" fill="#000"/>
<circle cx="483.02" cy="271.25" r="1.15" fill="#000"/>
<circle cx="484.85" cy="275.37" r="1.15" fill="#000"/>
<circle cx="486.68" cy="279.45" r="1.15" fill="#000"/>
<circle cx="488.50" cy="283.51" r="1.15" fill="#000"/>
<circle cx="490.32" cy="287.52" r="1.15" fill="#000"/>
<circle cx="492.15" cy="291.49" r="1.15" fill="#000"/>
<circle cx="493.98" cy="295.40" r="1.15" fill="#000"/>
<circle cx="495.80" cy="299.25" r="1.15" fill="#000"/>
<circle cx="497.62" cy="303.03" r="1.15" fill="#000"/>
<circle cx="499.45" cy="306.72" r="1.15" fill="#000"/>
<circle cx="501.27" cy="310.30" r="1.15" fill="#000"/>
<circle cx="503.10" cy="313.75" r="1.15" fill="#000"/>
<circle cx="504.93" cy="317.04" r="1.15" fill="#000"/>
<circle cx="506.75" cy="320.14" r="1.15" fill="#000"/>
<circle cx="508.57" cy="323.01" r="1.15" fill="#000"/>
<circle cx="510.40" cy="325.60" r="1.15" fill="#000"/>
<circle cx="512.23" cy="327.85" r="1.15" fill="#000"/>
<circle cx="514.05" cy="329.69" r="1.15" fill="#000"/>
<circle cx="515.88" cy="331.07" r="1.15" fill="#000"/>
<circle cx="517.70" cy="331.91" r="1.15" fill="#000"/>
<circle cx="519.52" cy="332.19" r="1.15" fill="#000"/>
<circle cx="521.35" cy="331.89" r="1.15" fill="#000"/>
<circle cx="523.17" cy="331.02" r="1.15" fill="#000"/>
<circle cx="525.00" cy="329.62" r="1.15" fill="#000"/>
<circle cx="526.83" cy="327.76" r="1.15" fill="#000"/>
<circle cx="528.65" cy="325.50" r="1.15" fill="#000"/>
<circle cx="530.48" cy="322.90" r="1.15" fill="#000"/>
<circle cx="532.30" cy="320.02" r="1.15" fill="#000"/>
<circle cx="534.12" cy="316.91" r="1.15" fill="#000"/>
<circle cx="535.95" cy="313.60" r="1.15" fill="#000"/>
<circle cx="537.77" cy="310.15" r="1.15" fill="#000"/>
<circle cx="539.60" cy="306.56" r="1.15" fill="#000"/>
<circle cx="541.42" cy="302.87" r="1.15" fill="#000"/>
<circle cx="543.25" cy="299.09" r="1.15" fill="#000"/>
<circle cx="545.08" cy="295.24" r="1.15" fill="#000"/>
<circle cx="546.90" cy="291.32" r="1.15" fill="#000"/>
<circle cx="548.73" cy="287.35" r="1.15" fill="#000"/>
<circle cx="550.55" cy="283.34" r="1.15" fill="#000"/>
<circle cx="552.38" cy="279.28" r="1.15" fill="#000"/>
<rect x="464.03" y="370.30" width="4.2" height="0.95" fill="#000"/>
<text transform="translate(468.23,373.20) scale(1,1.17)" font-size="6.0" font-weight="bold" stroke="#000" stroke-width="0.22">0.2</text>
<text transform="translate(505.08,373.20) scale(1,1.17)" font-size="6.0" font-weight="bold" stroke="#000" stroke-width="0.22">0</text>
<text transform="translate(539.08,373.20) scale(1,1.17)" font-size="6.0" font-weight="bold" stroke="#000" stroke-width="0.22">0.2</text>
<text transform="translate(443.76,368.50) scale(1,1.17)" font-size="6.0" font-weight="bold" stroke="#000" stroke-width="0.22">0</text>
<text transform="translate(435.42,314.30) scale(1,1.17)" font-size="6.0" font-weight="bold" stroke="#000" stroke-width="0.22">0.01</text>
<text transform="translate(435.42,260.10) scale(1,1.17)" font-size="6.0" font-weight="bold" stroke="#000" stroke-width="0.22">0.02</text>
<text transform="translate(501.75,389.50) scale(0.5922,0.8576)" x="-0.298" y="0" font-size="10.0" font-weight="normal" fill="#000"  stroke="#000" stroke-width="0.561">Δ</text>
<text transform="translate(505.95,389.50) scale(0.9770,0.7765)" x="0.210" y="0" font-size="10.0" font-weight="normal" font-style="italic" fill="#000"  stroke="#000" stroke-width="0.459">μ</text>
<text transform="translate(432.70,292.20) rotate(-90) scale(0.7545,0.8576)" x="-0.820" y="0" font-size="10.0" font-weight="normal" fill="#000"  stroke="#000" stroke-width="0.497">RMS</text>
<text transform="translate(458.00,214.10) scale(0.8452,0.9302)" x="-0.044" y="0" font-size="10.0" font-weight="normal" fill="#000"  word-spacing="2.366" stroke="#000" stroke-width="0.564">W Sgr</text>
</svg>
</body></html>
